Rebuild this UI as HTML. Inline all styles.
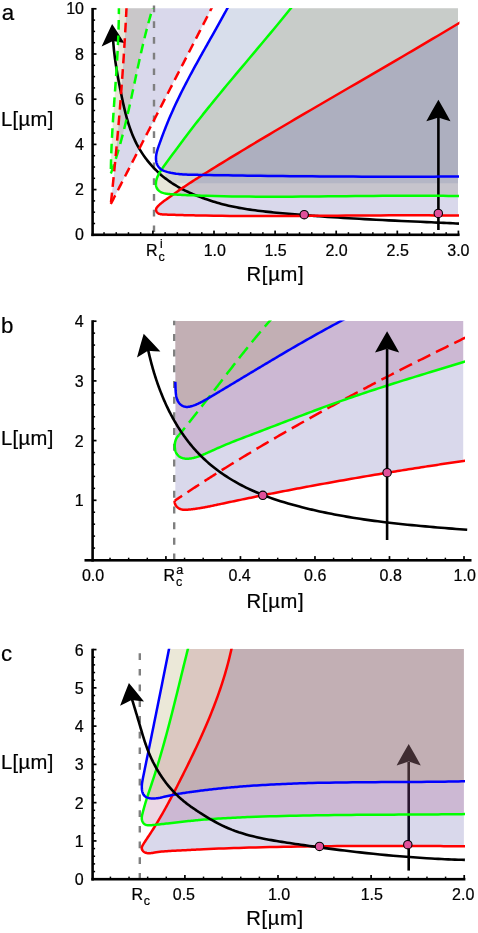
<!DOCTYPE html>
<html><head><meta charset="utf-8"><title>figure</title>
<style>
html,body{margin:0;padding:0;background:#fff;}
body{width:478px;height:933px;overflow:hidden;}
svg{display:block;will-change:transform;}
text{font-family:"Liberation Sans",sans-serif;fill:#000;stroke:#000;stroke-width:0.22px;}
</style></head><body>
<svg width="478" height="933" viewBox="0 0 478 933">
<rect width="478" height="933" fill="#fff"/>
<clipPath id="ca"><rect x="93.90" y="8.20" width="364.10" height="226.60"/></clipPath>
<g clip-path="url(#ca)">
<path d="M126.60,6.00 L126.59,6.07 L126.59,6.14 L126.59,6.21 L126.58,6.28 L126.58,6.35 L126.58,6.42 L126.57,6.49 L126.57,6.56 L126.57,6.63 L126.56,6.70 L126.56,6.77 L126.56,6.85 L126.55,6.92 L126.55,6.99 L126.55,7.06 L126.54,7.13 L126.54,7.20 L126.54,7.27 L126.53,7.34 L126.53,7.41 L126.53,7.48 L126.52,7.55 L126.52,7.62 L126.51,7.69 L126.51,7.76 L126.51,7.83 L126.50,7.90 L126.50,7.97 L126.50,8.04 L126.49,8.11 L126.49,8.18 L126.49,8.25 L126.48,8.32 L126.48,8.39 L126.48,8.47 L126.47,8.54 L126.47,8.61 L126.47,8.68 L126.46,8.75 L126.44,9.21 L126.34,11.26 L126.23,13.31 L126.13,15.36 L126.02,17.41 L125.91,19.45 L125.80,21.50 L125.69,23.55 L125.58,25.60 L125.46,27.65 L125.35,29.69 L125.23,31.74 L125.11,33.79 L124.99,35.84 L124.87,37.88 L124.75,39.93 L124.62,41.98 L124.50,44.03 L124.37,46.07 L124.24,48.12 L124.11,50.17 L123.98,52.21 L123.85,54.26 L123.72,56.31 L123.59,58.36 L123.45,60.40 L123.31,62.45 L123.17,64.50 L123.03,66.54 L122.89,68.59 L122.75,70.63 L122.61,72.68 L122.46,74.73 L122.32,76.77 L122.17,78.82 L122.02,80.86 L121.87,82.91 L121.72,84.96 L121.57,87.00 L121.41,89.05 L121.30,90.54 L121.25,91.22 L121.20,91.89 L121.15,92.56 L121.10,93.23 L121.04,93.91 L120.99,94.58 L120.94,95.25 L120.89,95.92 L120.84,96.60 L120.78,97.27 L120.73,97.94 L120.68,98.61 L120.63,99.29 L120.57,99.96 L120.52,100.63 L120.47,101.30 L120.41,101.98 L120.36,102.65 L120.31,103.32 L120.25,103.99 L120.20,104.67 L120.14,105.34 L120.09,106.01 L120.04,106.68 L119.98,107.36 L119.93,108.03 L119.87,108.70 L119.82,109.37 L119.76,110.04 L119.71,110.72 L119.65,111.39 L119.60,112.06 L119.54,112.73 L119.49,113.41 L119.43,114.08 L119.38,114.75 L119.32,115.42 L119.26,116.09 L119.21,116.77 L119.11,117.99 L118.97,119.57 L118.84,121.15 L118.70,122.73 L118.57,124.32 L118.43,125.90 L118.30,127.48 L118.16,129.06 L118.02,130.65 L117.88,132.23 L117.74,133.81 L117.60,135.39 L117.46,136.97 L117.32,138.56 L117.17,140.14 L117.03,141.72 L116.89,143.30 L116.74,144.88 L116.60,146.46 L116.45,148.05 L116.30,149.63 L116.16,151.21 L116.01,152.79 L115.86,154.37 L115.71,155.95 L115.56,157.53 L115.41,159.11 L115.25,160.70 L115.10,162.28 L114.95,163.86 L114.79,165.44 L114.64,167.02 L114.48,168.60 L114.33,170.18 L114.17,171.76 L114.01,173.34 L113.85,174.92 L113.69,176.50 L113.53,178.08 L113.37,179.66 L113.29,180.46 L113.23,181.06 L113.17,181.67 L113.11,182.27 L113.05,182.87 L112.98,183.48 L112.92,184.08 L112.86,184.69 L112.80,185.29 L112.73,185.89 L112.67,186.50 L112.61,187.10 L112.55,187.70 L112.48,188.31 L112.42,188.91 L112.36,189.52 L112.29,190.12 L112.23,190.72 L112.17,191.33 L112.10,191.93 L112.04,192.53 L111.97,193.14 L111.91,193.74 L111.85,194.34 L111.78,194.95 L111.72,195.55 L111.65,196.16 L111.59,196.76 L111.52,197.36 L111.46,197.97 L111.40,198.57 L111.33,199.17 L111.27,199.78 L111.20,200.38 L111.14,200.98 L111.07,201.59 L111.00,202.19 L110.94,202.79 L110.87,203.40 L110.81,204.00 L110.80,204.00 L111.33,202.96 L111.86,201.93 L112.40,200.89 L112.93,199.86 L113.46,198.82 L113.99,197.79 L114.53,196.75 L115.06,195.72 L115.59,194.68 L116.12,193.65 L116.66,192.61 L117.19,191.58 L117.72,190.54 L118.25,189.51 L118.79,188.47 L119.32,187.44 L119.85,186.40 L120.39,185.37 L120.92,184.33 L121.45,183.30 L121.98,182.26 L122.52,181.22 L123.05,180.19 L123.58,179.15 L124.11,178.12 L124.65,177.08 L125.18,176.05 L125.71,175.01 L126.25,173.98 L126.78,172.94 L127.31,171.91 L127.84,170.87 L128.38,169.84 L128.91,168.80 L129.44,167.77 L129.98,166.73 L130.51,165.70 L131.04,164.66 L131.57,163.63 L132.11,162.59 L132.66,161.51 L133.22,160.44 L133.77,159.37 L134.32,158.29 L134.87,157.22 L135.43,156.15 L135.98,155.08 L136.53,154.00 L137.09,152.93 L137.64,151.86 L138.19,150.78 L138.74,149.71 L139.30,148.64 L139.85,147.56 L140.40,146.49 L140.95,145.42 L141.51,144.35 L142.06,143.27 L142.61,142.20 L143.16,141.13 L143.72,140.05 L144.27,138.98 L144.82,137.91 L145.38,136.84 L145.93,135.76 L146.48,134.69 L147.03,133.62 L147.59,132.54 L148.14,131.47 L148.69,130.40 L149.24,129.33 L149.80,128.25 L150.35,127.18 L150.90,126.11 L151.46,125.03 L152.01,123.96 L152.56,122.89 L153.11,121.82 L153.67,120.74 L154.46,119.21 L155.60,116.98 L156.75,114.76 L157.90,112.53 L159.04,110.31 L160.19,108.08 L161.34,105.85 L162.48,103.63 L163.63,101.40 L164.78,99.18 L165.92,96.95 L167.07,94.73 L168.22,92.50 L169.36,90.27 L170.51,88.05 L171.66,85.82 L172.80,83.60 L173.95,81.37 L175.09,79.15 L176.24,76.92 L177.39,74.69 L178.53,72.47 L179.68,70.24 L180.82,68.02 L181.97,65.79 L183.12,63.56 L184.26,61.34 L185.41,59.11 L186.55,56.88 L187.70,54.66 L188.84,52.43 L189.99,50.21 L191.13,47.98 L192.28,45.75 L193.42,43.53 L194.57,41.30 L195.71,39.07 L196.86,36.85 L198.00,34.62 L199.15,32.39 L199.78,31.16 L200.07,30.59 L200.37,30.02 L200.66,29.45 L200.95,28.88 L201.25,28.31 L201.54,27.74 L201.83,27.17 L202.13,26.59 L202.42,26.02 L202.71,25.45 L203.01,24.88 L203.30,24.31 L203.59,23.74 L203.89,23.17 L204.18,22.60 L204.47,22.03 L204.77,21.46 L205.06,20.89 L205.35,20.32 L205.65,19.75 L205.94,19.17 L206.23,18.60 L206.52,18.03 L206.82,17.46 L207.11,16.89 L207.40,16.32 L207.70,15.75 L207.99,15.18 L208.28,14.61 L208.58,14.04 L208.87,13.47 L209.16,12.90 L209.46,12.33 L209.75,11.75 L210.04,11.18 L210.33,10.61 L210.63,10.04 L210.92,9.47 L211.21,8.90 L211.30,8.73 L211.34,8.66 L211.37,8.59 L211.41,8.52 L211.44,8.45 L211.48,8.38 L211.52,8.31 L211.55,8.24 L211.59,8.17 L211.62,8.10 L211.66,8.03 L211.70,7.96 L211.73,7.89 L211.77,7.82 L211.80,7.75 L211.84,7.68 L211.88,7.61 L211.91,7.54 L211.95,7.47 L211.98,7.40 L212.02,7.33 L212.06,7.26 L212.09,7.19 L212.13,7.12 L212.16,7.05 L212.20,6.98 L212.23,6.91 L212.27,6.84 L212.31,6.77 L212.34,6.70 L212.38,6.63 L212.41,6.56 L212.45,6.49 L212.49,6.42 L212.52,6.35 L212.56,6.28 L212.59,6.21 L212.63,6.14 L212.67,6.07 L212.70,6.00 Z" fill="rgb(63,61,153)" fill-opacity="0.2"/>
<path d="M118.89,6.00 L118.89,6.06 L118.89,6.11 L118.89,6.17 L118.90,6.23 L118.90,6.28 L118.90,6.34 L118.90,6.39 L118.90,6.45 L118.90,6.51 L118.90,6.56 L118.90,6.62 L118.90,6.68 L118.90,6.73 L118.90,6.79 L118.90,6.85 L118.90,6.90 L118.90,6.96 L118.90,7.02 L118.90,7.07 L118.90,7.13 L118.90,7.18 L118.90,7.24 L118.90,7.30 L118.90,7.35 L118.90,7.41 L118.90,7.47 L118.90,7.52 L118.90,7.58 L118.90,7.64 L118.90,7.69 L118.90,7.75 L118.90,7.80 L118.90,7.86 L118.90,7.92 L118.90,7.97 L118.90,8.03 L118.90,8.09 L118.90,8.14 L118.90,8.20 L118.90,8.26 L118.90,8.31 L118.90,8.37 L118.90,8.43 L118.90,8.48 L118.90,8.54 L118.90,8.59 L118.90,8.65 L118.90,8.71 L118.90,8.76 L118.89,9.22 L118.89,10.86 L118.88,12.50 L118.86,14.14 L118.84,15.78 L118.82,17.42 L118.79,19.07 L118.76,20.71 L118.73,22.35 L118.69,23.99 L118.65,25.63 L118.60,27.27 L118.56,28.91 L118.50,30.55 L118.45,32.19 L118.39,33.82 L118.33,35.46 L118.27,37.10 L118.20,38.74 L118.13,40.38 L118.06,42.02 L117.98,43.66 L117.90,45.29 L117.82,46.93 L117.74,48.57 L117.65,50.21 L117.57,51.84 L117.48,53.48 L117.39,55.12 L117.29,56.76 L117.20,58.39 L117.10,60.03 L117.00,61.67 L116.90,63.30 L116.80,64.94 L116.69,66.58 L116.59,68.21 L116.48,69.85 L116.37,71.48 L116.26,73.12 L116.16,74.76 L116.04,76.39 L115.93,78.03 L115.82,79.67 L115.71,81.30 L115.59,82.94 L115.48,84.57 L115.36,86.21 L115.25,87.84 L115.13,89.48 L115.06,90.57 L115.02,91.10 L114.98,91.64 L114.94,92.18 L114.90,92.71 L114.87,93.25 L114.83,93.79 L114.79,94.32 L114.75,94.86 L114.71,95.40 L114.68,95.93 L114.64,96.47 L114.60,97.01 L114.56,97.54 L114.52,98.08 L114.49,98.62 L114.45,99.15 L114.41,99.69 L114.37,100.23 L114.33,100.76 L114.30,101.30 L114.26,101.84 L114.22,102.37 L114.18,102.91 L114.15,103.45 L114.11,103.98 L114.07,104.52 L114.03,105.06 L114.00,105.59 L113.96,106.13 L113.92,106.67 L113.88,107.20 L113.85,107.74 L113.81,108.28 L113.77,108.82 L113.74,109.35 L113.70,109.89 L113.66,110.43 L113.63,110.96 L113.59,111.50 L113.55,112.04 L113.52,112.57 L113.48,113.11 L113.44,113.65 L113.41,114.18 L113.37,114.72 L113.34,115.26 L113.30,115.79 L113.27,116.33 L113.23,116.87 L113.17,117.85 L113.09,118.99 L113.02,120.12 L112.95,121.25 L112.87,122.39 L112.80,123.52 L112.73,124.66 L112.66,125.79 L112.59,126.93 L112.53,128.06 L112.46,129.20 L112.39,130.33 L112.33,131.47 L112.26,132.60 L112.20,133.73 L112.14,134.87 L112.08,136.00 L112.02,137.14 L111.96,138.27 L111.90,139.41 L111.84,140.55 L111.78,141.68 L111.73,142.82 L111.68,143.95 L111.62,145.09 L111.57,146.22 L111.52,147.36 L111.47,148.49 L111.43,149.63 L111.38,150.76 L111.34,151.90 L111.29,153.04 L111.25,154.17 L111.21,155.31 L111.17,156.45 L111.14,157.58 L111.10,158.72 L111.07,159.85 L111.04,160.99 L111.01,162.13 L110.98,163.26 L110.95,164.40 L110.93,165.54 L110.90,166.68 L110.88,167.81 L110.86,168.95 L110.84,170.09 L110.83,171.22 L110.81,172.36 L110.80,173.50 L110.80,173.50 L110.90,173.23 L111.00,172.96 L111.10,172.69 L111.19,172.42 L111.29,172.15 L111.39,171.88 L111.49,171.61 L111.58,171.34 L111.68,171.07 L111.77,170.80 L111.87,170.52 L111.97,170.25 L112.06,169.98 L112.16,169.71 L112.25,169.44 L112.35,169.17 L112.44,168.90 L112.54,168.63 L112.63,168.35 L112.72,168.08 L112.82,167.81 L112.91,167.54 L113.00,167.27 L113.10,167.00 L113.19,166.72 L113.28,166.45 L113.38,166.18 L113.47,165.91 L113.56,165.63 L113.65,165.36 L113.74,165.09 L113.83,164.82 L113.92,164.55 L114.02,164.27 L114.11,164.00 L114.20,163.73 L114.29,163.45 L114.38,163.18 L114.47,162.91 L114.56,162.64 L114.65,162.36 L114.74,162.09 L114.82,161.82 L114.91,161.54 L115.00,161.27 L115.09,161.00 L115.18,160.72 L115.27,160.45 L115.35,160.18 L115.49,159.76 L115.76,158.91 L116.03,158.05 L116.30,157.20 L116.56,156.35 L116.83,155.49 L117.09,154.64 L117.35,153.78 L117.61,152.93 L117.86,152.07 L118.12,151.21 L118.37,150.36 L118.62,149.50 L118.87,148.64 L119.12,147.78 L119.37,146.92 L119.61,146.06 L119.85,145.20 L120.10,144.34 L120.34,143.48 L120.58,142.61 L120.81,141.75 L121.05,140.89 L121.28,140.03 L121.52,139.16 L121.75,138.30 L121.98,137.43 L122.21,136.57 L122.43,135.70 L122.66,134.84 L122.88,133.97 L123.11,133.10 L123.33,132.24 L123.55,131.37 L123.77,130.50 L123.99,129.63 L124.21,128.77 L124.42,127.90 L124.64,127.03 L124.85,126.16 L125.06,125.29 L125.28,124.42 L125.49,123.55 L125.70,122.68 L125.91,121.81 L126.11,120.94 L126.32,120.07 L126.53,119.19 L126.73,118.32 L126.94,117.45 L127.29,115.92 L127.79,113.74 L128.29,111.56 L128.79,109.37 L129.27,107.19 L129.76,105.00 L130.24,102.81 L130.72,100.63 L131.20,98.44 L131.67,96.25 L132.14,94.06 L132.61,91.86 L133.08,89.67 L133.54,87.48 L134.01,85.29 L134.47,83.10 L134.94,80.91 L135.40,78.71 L135.87,76.52 L136.34,74.33 L136.80,72.14 L137.27,69.95 L137.74,67.76 L138.22,65.57 L138.69,63.39 L139.17,61.20 L139.65,59.01 L140.14,56.83 L140.63,54.65 L141.12,52.46 L141.62,50.28 L142.12,48.10 L142.63,45.93 L143.14,43.75 L143.66,41.58 L144.19,39.41 L144.72,37.24 L145.26,35.07 L145.81,32.91 L146.36,30.75 L146.92,28.59 L147.49,26.43 L148.07,24.27 L148.66,22.12 L149.26,19.97 L149.86,17.83 L150.48,15.69 L151.10,13.55 L151.74,11.41 L152.39,9.28 L152.56,8.71 L152.58,8.65 L152.60,8.60 L152.62,8.54 L152.63,8.49 L152.65,8.43 L152.67,8.38 L152.68,8.32 L152.70,8.27 L152.72,8.21 L152.74,8.16 L152.75,8.10 L152.77,8.04 L152.79,7.99 L152.80,7.93 L152.82,7.88 L152.84,7.82 L152.86,7.77 L152.87,7.71 L152.89,7.66 L152.91,7.60 L152.92,7.55 L152.94,7.49 L152.96,7.44 L152.98,7.38 L152.99,7.33 L153.01,7.27 L153.03,7.22 L153.04,7.16 L153.06,7.11 L153.08,7.05 L153.10,7.00 L153.11,6.94 L153.13,6.89 L153.15,6.83 L153.17,6.78 L153.18,6.72 L153.20,6.66 L153.22,6.61 L153.23,6.55 L153.25,6.50 L153.27,6.44 L153.29,6.39 L153.30,6.33 L153.32,6.28 L153.34,6.22 L153.36,6.17 L153.37,6.11 L153.39,6.06 L153.41,6.00 Z" fill="rgb(140,133,64)" fill-opacity="0.2"/>
<path d="M228.20,6.80 L228.08,7.01 L227.97,7.22 L227.86,7.43 L227.74,7.64 L227.63,7.85 L227.52,8.06 L227.40,8.27 L227.29,8.49 L227.17,8.70 L226.20,10.49 L224.44,13.72 L222.66,16.95 L220.87,20.18 L219.08,23.40 L217.27,26.63 L215.46,29.85 L213.64,33.08 L211.82,36.31 L210.04,39.47 L208.99,41.32 L207.94,43.18 L206.90,45.04 L205.85,46.90 L204.81,48.75 L203.76,50.61 L202.72,52.47 L201.68,54.33 L200.64,56.20 L199.42,58.39 L198.06,60.83 L196.71,63.27 L195.37,65.72 L194.03,68.17 L192.70,70.62 L191.38,73.07 L190.06,75.53 L188.76,77.99 L187.45,80.47 L186.08,83.10 L184.72,85.74 L183.37,88.38 L182.03,91.03 L180.71,93.68 L179.40,96.33 L178.11,99.00 L176.83,101.66 L175.57,104.34 L174.66,106.30 L173.96,107.83 L173.26,109.36 L172.57,110.90 L171.89,112.43 L171.21,113.97 L170.54,115.51 L169.88,117.05 L169.22,118.59 L168.61,120.04 L168.26,120.89 L167.91,121.73 L167.56,122.58 L167.22,123.42 L166.87,124.27 L166.53,125.12 L166.19,125.97 L165.85,126.82 L165.51,127.67 L165.21,128.45 L164.92,129.18 L164.63,129.92 L164.35,130.66 L164.06,131.40 L163.78,132.13 L163.50,132.87 L163.22,133.62 L162.94,134.36 L162.63,135.17 L162.22,136.27 L161.81,137.37 L161.40,138.48 L161.00,139.59 L160.59,140.70 L160.19,141.81 L159.79,142.93 L159.40,144.04 L159.00,145.16 L158.73,145.93 L158.51,146.56 L158.29,147.19 L158.07,147.82 L157.86,148.46 L157.66,149.09 L157.46,149.73 L157.27,150.36 L157.09,151.00 L156.92,151.64 L156.75,152.29 L156.61,152.94 L156.47,153.58 L156.35,154.24 L156.24,154.89 L156.15,155.55 L156.08,156.21 L156.02,156.87 L155.99,157.54 L155.98,158.21 L155.98,158.88 L156.02,159.55 L156.07,160.22 L156.15,160.89 L156.27,161.55 L156.40,162.20 L156.57,162.85 L156.78,163.49 L157.01,164.11 L157.29,164.73 L157.59,165.33 L157.93,165.92 L158.30,166.48 L158.70,167.02 L159.13,167.53 L159.59,168.02 L160.07,168.48 L160.58,168.92 L161.20,169.37 L161.86,169.80 L162.55,170.19 L163.27,170.54 L164.00,170.86 L164.75,171.15 L165.52,171.42 L166.29,171.66 L167.07,171.89 L168.03,172.15 L169.35,172.47 L170.66,172.77 L171.98,173.04 L173.30,173.28 L174.62,173.50 L175.94,173.70 L177.26,173.87 L178.59,174.02 L179.91,174.16 L181.47,174.29 L183.06,174.41 L184.65,174.50 L186.24,174.58 L187.83,174.64 L189.43,174.69 L191.02,174.73 L192.62,174.77 L194.21,174.80 L195.60,174.82 L196.63,174.84 L197.66,174.86 L198.70,174.88 L199.73,174.89 L200.77,174.91 L201.80,174.93 L202.84,174.95 L203.87,174.96 L204.90,174.98 L209.30,175.06 L214.05,175.13 L218.80,175.21 L223.55,175.28 L228.30,175.36 L233.04,175.43 L237.79,175.50 L242.54,175.56 L247.29,175.63 L253.17,175.71 L260.56,175.80 L267.94,175.89 L275.33,175.98 L282.71,176.06 L290.10,176.14 L297.49,176.21 L304.87,176.28 L312.26,176.34 L319.65,176.40 L328.04,176.46 L336.48,176.51 L344.92,176.56 L353.36,176.60 L361.81,176.64 L370.25,176.66 L378.69,176.68 L387.13,176.69 L395.58,176.70 L402.96,176.70 L409.19,176.69 L415.42,176.68 L421.64,176.67 L427.87,176.65 L434.09,176.63 L440.32,176.60 L446.55,176.57 L452.77,176.53 L459.00,176.49 L459,6 Z" fill="rgb(61,90,153)" fill-opacity="0.2"/>
<path d="M292.00,6.80 L291.86,6.98 L291.71,7.16 L291.57,7.34 L291.42,7.52 L291.28,7.70 L291.13,7.88 L290.99,8.06 L290.84,8.24 L290.70,8.43 L290.55,8.61 L290.41,8.79 L286.58,13.52 L282.52,18.50 L278.45,23.47 L274.35,28.43 L270.25,33.38 L266.13,38.31 L262.00,43.25 L257.86,48.17 L253.72,53.09 L249.58,58.01 L245.44,62.93 L242.15,66.85 L238.97,70.63 L235.79,74.42 L232.61,78.21 L229.44,82.01 L226.28,85.81 L223.12,89.62 L219.97,93.44 L216.84,97.26 L213.71,101.09 L210.59,104.93 L209.23,106.61 L208.22,107.86 L207.21,109.12 L206.20,110.37 L205.20,111.63 L204.19,112.89 L203.19,114.15 L202.19,115.41 L201.19,116.67 L200.19,117.93 L199.19,119.20 L198.07,120.63 L196.91,122.11 L195.76,123.59 L194.61,125.07 L193.46,126.55 L192.31,128.04 L191.17,129.52 L190.02,131.01 L188.88,132.51 L187.75,134.00 L186.62,135.50 L185.70,136.72 L184.86,137.83 L184.02,138.94 L183.19,140.06 L182.36,141.18 L181.52,142.29 L180.69,143.41 L179.86,144.53 L179.03,145.65 L178.20,146.77 L177.37,147.89 L176.91,148.53 L176.62,148.92 L176.33,149.31 L176.04,149.70 L175.75,150.09 L175.46,150.49 L175.17,150.88 L174.88,151.27 L174.59,151.66 L174.30,152.05 L174.01,152.45 L173.34,153.36 L172.42,154.61 L171.50,155.85 L170.58,157.10 L169.66,158.35 L168.75,159.60 L167.83,160.85 L166.92,162.10 L166.01,163.35 L165.10,164.60 L164.20,165.85 L163.49,166.83 L162.94,167.60 L162.40,168.36 L161.86,169.13 L161.33,169.91 L160.81,170.69 L160.30,171.49 L159.81,172.29 L159.33,173.10 L158.87,173.92 L158.43,174.76 L158.06,175.51 L157.75,176.17 L157.46,176.83 L157.19,177.51 L156.94,178.19 L156.71,178.88 L156.51,179.58 L156.33,180.28 L156.18,180.99 L156.07,181.71 L155.98,182.43 L155.94,183.07 L155.92,183.59 L155.93,184.11 L155.95,184.64 L156.00,185.16 L156.07,185.67 L156.17,186.18 L156.30,186.68 L156.45,187.16 L156.63,187.64 L156.84,188.10 L157.08,188.54 L157.36,188.98 L157.67,189.40 L158.00,189.80 L158.36,190.17 L158.75,190.53 L159.15,190.88 L159.58,191.20 L160.01,191.50 L160.47,191.78 L160.93,192.04 L161.50,192.32 L162.25,192.65 L163.02,192.93 L163.80,193.17 L164.60,193.38 L165.40,193.56 L166.22,193.71 L167.04,193.83 L167.86,193.94 L168.69,194.03 L169.52,194.11 L170.44,194.19 L171.60,194.28 L172.75,194.37 L173.90,194.45 L175.05,194.52 L176.19,194.59 L177.33,194.66 L178.47,194.72 L179.60,194.78 L180.74,194.84 L181.87,194.89 L183.20,194.95 L185.20,195.04 L187.20,195.13 L189.21,195.21 L191.21,195.29 L193.22,195.37 L195.22,195.45 L197.23,195.52 L199.24,195.59 L201.24,195.66 L203.25,195.73 L206.35,195.82 L214.91,196.06 L223.47,196.25 L232.04,196.41 L240.62,196.53 L249.21,196.61 L257.80,196.67 L266.40,196.70 L275.00,196.70 L283.61,196.68 L292.22,196.64 L300.88,196.59 L309.95,196.52 L319.02,196.43 L328.09,196.34 L337.16,196.25 L346.23,196.15 L355.30,196.05 L364.37,195.96 L373.44,195.88 L382.50,195.80 L391.56,195.75 L400.40,195.71 L405.74,195.69 L411.08,195.69 L416.42,195.69 L421.75,195.70 L427.08,195.73 L432.41,195.76 L437.73,195.80 L443.05,195.86 L448.37,195.93 L453.69,196.01 L459.00,196.11 L459,6 Z" fill="rgb(140,133,64)" fill-opacity="0.2"/>
<path d="M462.00,21.30 L461.74,21.45 L461.49,21.60 L461.23,21.76 L460.97,21.91 L460.72,22.07 L460.46,22.22 L460.21,22.37 L459.95,22.53 L459.69,22.68 L459.44,22.84 L459.18,22.99 L457.53,23.98 L452.52,26.99 L447.50,29.99 L442.48,32.98 L437.46,35.97 L432.43,38.95 L427.40,41.92 L422.37,44.90 L417.33,47.86 L412.29,50.83 L407.24,53.79 L402.20,56.74 L395.59,60.61 L387.89,65.10 L380.18,69.60 L372.47,74.09 L364.75,78.57 L357.04,83.06 L349.32,87.54 L341.61,92.02 L333.90,96.51 L326.18,101.00 L318.48,105.49 L310.77,109.99 L305.33,113.17 L300.20,116.18 L295.06,119.20 L289.93,122.21 L284.80,125.23 L279.68,128.26 L274.56,131.29 L269.44,134.33 L264.33,137.37 L259.22,140.42 L254.12,143.47 L249.24,146.40 L245.42,148.70 L241.60,151.00 L237.78,153.31 L233.97,155.62 L230.16,157.94 L226.35,160.26 L222.55,162.59 L218.75,164.92 L214.95,167.26 L211.16,169.61 L207.37,171.95 L204.86,173.51 L203.79,174.18 L202.72,174.85 L201.65,175.51 L200.58,176.18 L199.51,176.85 L198.45,177.52 L197.38,178.20 L196.31,178.87 L195.25,179.55 L194.18,180.23 L193.12,180.91 L192.03,181.61 L190.92,182.33 L189.82,183.04 L188.72,183.76 L187.62,184.48 L186.52,185.21 L185.42,185.94 L184.33,186.67 L183.23,187.41 L182.14,188.16 L181.05,188.90 L179.96,189.65 L178.88,190.40 L177.81,191.16 L176.73,191.91 L175.66,192.67 L174.60,193.43 L173.53,194.19 L172.47,194.95 L171.42,195.70 L170.37,196.45 L169.33,197.20 L168.29,197.94 L167.35,198.61 L166.59,199.15 L165.84,199.69 L165.08,200.23 L164.33,200.79 L163.58,201.35 L162.82,201.92 L162.07,202.52 L161.32,203.13 L160.56,203.77 L159.81,204.44 L159.05,205.13 L158.55,205.60 L158.21,205.94 L157.87,206.29 L157.55,206.64 L157.24,207.00 L156.96,207.37 L156.70,207.74 L156.48,208.12 L156.30,208.51 L156.16,208.91 L156.07,209.31 L156.04,209.72 L156.05,210.01 L156.09,210.30 L156.15,210.60 L156.24,210.88 L156.35,211.17 L156.49,211.45 L156.64,211.72 L156.81,211.98 L156.99,212.23 L157.20,212.47 L157.41,212.69 L157.68,212.94 L158.11,213.26 L158.57,213.53 L159.05,213.75 L159.56,213.93 L160.09,214.08 L160.63,214.19 L161.19,214.28 L161.75,214.34 L162.33,214.39 L162.91,214.43 L163.49,214.45 L164.67,214.50 L166.37,214.57 L168.05,214.64 L169.71,214.70 L171.35,214.76 L172.98,214.81 L174.59,214.86 L176.20,214.91 L177.79,214.96 L179.38,215.01 L180.97,215.05 L182.56,215.09 L184.38,215.14 L186.25,215.19 L188.12,215.24 L189.99,215.28 L191.87,215.32 L193.74,215.36 L195.62,215.40 L197.50,215.44 L199.38,215.48 L201.26,215.52 L203.14,215.55 L205.74,215.60 L213.77,215.72 L221.82,215.82 L229.89,215.90 L237.97,215.96 L246.07,216.00 L254.18,216.03 L262.30,216.04 L270.44,216.04 L278.58,216.02 L286.73,216.00 L294.89,215.96 L303.23,215.91 L311.83,215.86 L320.43,215.80 L329.03,215.74 L337.64,215.68 L346.24,215.62 L354.84,215.56 L363.43,215.50 L372.02,215.44 L380.61,215.40 L389.18,215.36 L397.75,215.34 L403.83,215.32 L408.87,215.32 L413.91,215.32 L418.94,215.32 L423.97,215.34 L428.99,215.35 L434.01,215.38 L439.02,215.41 L444.02,215.45 L449.02,215.49 L454.01,215.55 L458.99,215.61 Z" fill="rgb(63,61,153)" fill-opacity="0.2"/>
<path d="M166,172 L459,176.5 L459,183.2 L172,183.2 Q163,180 166,172 Z" fill="rgb(61,90,153)" fill-opacity="0.13"/>
</g>
<path d="M154,5.6 L154,234" stroke="#7f7f7f" stroke-width="2.4" stroke-dasharray="6.7 9.0" fill="none"/>
<path d="M113.00,38.00 L113.11,39.80 L113.23,41.60 L113.36,43.40 L113.51,45.20 L113.67,46.99 L113.84,48.79 L114.02,50.58 L114.22,52.36 L114.43,54.15 L114.67,56.12 L114.94,58.26 L115.23,60.40 L115.54,62.54 L115.86,64.68 L116.19,66.81 L116.53,68.95 L116.88,71.08 L117.24,73.21 L117.61,75.33 L117.95,77.20 L118.29,79.08 L118.64,80.96 L119.00,82.84 L119.36,84.72 L119.72,86.59 L120.09,88.47 L120.47,90.35 L120.85,92.23 L121.19,93.94 L121.52,95.54 L121.85,97.14 L122.18,98.73 L122.52,100.32 L122.86,101.92 L123.21,103.51 L123.57,105.10 L123.93,106.69 L124.32,108.35 L124.89,110.73 L125.48,113.11 L126.10,115.48 L126.74,117.84 L127.42,120.19 L128.12,122.53 L128.85,124.85 L129.62,127.16 L130.42,129.46 L131.10,131.30 L131.70,132.87 L132.32,134.43 L132.96,135.98 L133.62,137.53 L134.31,139.06 L135.02,140.58 L135.75,142.09 L136.50,143.60 L137.27,145.06 L137.97,146.35 L138.69,147.63 L139.42,148.90 L140.18,150.16 L140.96,151.41 L141.75,152.65 L142.56,153.89 L143.39,155.11 L144.23,156.32 L145.04,157.43 L145.83,158.50 L146.63,159.55 L147.44,160.60 L148.27,161.64 L149.11,162.66 L149.96,163.68 L150.83,164.68 L151.71,165.67 L152.60,166.65 L153.50,167.62 L154.41,168.57 L155.33,169.51 L156.27,170.44 L157.21,171.36 L158.17,172.26 L159.13,173.15 L160.11,174.03 L161.10,174.90 L162.03,175.68 L162.93,176.44 L163.85,177.18 L164.77,177.91 L165.70,178.63 L166.63,179.34 L167.58,180.04 L168.53,180.73 L169.49,181.41 L170.53,182.12 L171.81,182.99 L173.11,183.83 L174.41,184.65 L175.73,185.46 L177.06,186.25 L178.40,187.03 L179.75,187.78 L181.11,188.52 L182.48,189.25 L183.77,189.91 L185.05,190.55 L186.33,191.17 L187.62,191.78 L188.92,192.38 L190.22,192.96 L191.53,193.54 L192.85,194.10 L194.17,194.65 L195.41,195.16 L196.43,195.57 L197.45,195.97 L198.48,196.37 L199.51,196.77 L200.54,197.15 L201.58,197.54 L202.62,197.92 L203.65,198.29 L204.70,198.66 L206.59,199.32 L208.70,200.03 L210.81,200.72 L212.92,201.40 L215.04,202.05 L217.17,202.68 L219.30,203.29 L221.44,203.88 L223.58,204.45 L225.89,205.03 L228.53,205.66 L231.18,206.26 L233.84,206.82 L236.50,207.35 L239.17,207.86 L241.84,208.33 L244.52,208.78 L247.20,209.20 L249.88,209.60 L252.52,209.98 L255.16,210.33 L257.81,210.67 L260.45,210.99 L263.09,211.30 L265.74,211.59 L268.39,211.88 L271.04,212.15 L273.69,212.42 L276.49,212.69 L279.53,212.99 L282.58,213.28 L285.62,213.56 L288.66,213.83 L291.70,214.10 L294.75,214.36 L297.79,214.62 L300.83,214.87 L303.88,215.12 L305.68,215.26 L307.34,215.39 L309.01,215.52 L310.68,215.65 L312.34,215.78 L314.01,215.90 L315.68,216.02 L317.34,216.15 L319.01,216.27 L322.22,216.50 L327.50,216.86 L332.78,217.21 L338.06,217.55 L343.34,217.88 L348.62,218.20 L353.90,218.51 L359.19,218.81 L364.47,219.10 L369.76,219.38 L376.04,219.70 L382.37,220.02 L388.71,220.34 L395.04,220.64 L401.38,220.94 L407.71,221.23 L414.04,221.53 L420.38,221.82 L426.71,222.10 L431.48,222.32 L434.54,222.46 L437.60,222.60 L440.66,222.74 L443.72,222.88 L446.77,223.03 L449.83,223.17 L452.89,223.31 L455.94,223.46 L459.00,223.61" fill="none" stroke="#000" stroke-width="2.6"/>
<path d="M112.10,23.90 Q106.57,35.39 101.60,46.60 Q107.25,43.75 112.90,40.90 Q118.65,41.95 124.40,43.00 Q118.54,33.50 112.10,23.90 Z" fill="#000"/>
<path d="M438.4,230 L438.4,117" stroke="#000" stroke-width="2.6"/>
<path d="M438.40,99.80 Q432.05,110.65 426.30,121.30 Q432.35,119.35 438.40,117.40 Q444.45,119.35 450.50,121.30 Q444.75,110.65 438.40,99.80 Z" fill="#000"/>
<g clip-path="url(#ca)" fill="none" stroke-width="2.5">
<path d="M110.80,173.50 L110.81,172.36 L110.83,171.22 L110.84,170.09 L110.86,168.95 L110.88,167.81 L110.90,166.68 L110.93,165.54 L110.95,164.40 L110.98,163.26 L111.01,162.13 L111.04,160.99 L111.07,159.85 L111.10,158.72 L111.14,157.58 L111.17,156.45 L111.21,155.31 L111.25,154.17 L111.29,153.04 L111.34,151.90 L111.38,150.76 L111.43,149.63 L111.47,148.49 L111.52,147.36 L111.57,146.22 L111.62,145.09 L111.68,143.95 L111.73,142.82 L111.78,141.68 L111.84,140.55 L111.90,139.41 L111.96,138.27 L112.02,137.14 L112.08,136.00 L112.14,134.87 L112.20,133.73 L112.26,132.60 L112.33,131.47 L112.39,130.33 L112.46,129.20 L112.53,128.06 L112.59,126.93 L112.66,125.79 L112.73,124.66 L112.80,123.52 L112.87,122.39 L112.95,121.25 L113.02,120.12 L113.09,118.99 L113.17,117.85 L113.23,116.87 L113.27,116.33 L113.30,115.79 L113.34,115.26 L113.37,114.72 L113.41,114.18 L113.44,113.65 L113.48,113.11 L113.52,112.57 L113.55,112.04 L113.59,111.50 L113.63,110.96 L113.66,110.43 L113.70,109.89 L113.74,109.35 L113.77,108.82 L113.81,108.28 L113.85,107.74 L113.88,107.20 L113.92,106.67 L113.96,106.13 L114.00,105.59 L114.03,105.06 L114.07,104.52 L114.11,103.98 L114.15,103.45 L114.18,102.91 L114.22,102.37 L114.26,101.84 L114.30,101.30 L114.33,100.76 L114.37,100.23 L114.41,99.69 L114.45,99.15 L114.49,98.62 L114.52,98.08 L114.56,97.54 L114.60,97.01 L114.64,96.47 L114.68,95.93 L114.71,95.40 L114.75,94.86 L114.79,94.32 L114.83,93.79 L114.87,93.25 L114.90,92.71 L114.94,92.18 L114.98,91.64 L115.02,91.10 L115.06,90.57 L115.13,89.48 L115.25,87.84 L115.36,86.21 L115.48,84.57 L115.59,82.94 L115.71,81.30 L115.82,79.67 L115.93,78.03 L116.04,76.39 L116.16,74.76 L116.26,73.12 L116.37,71.48 L116.48,69.85 L116.59,68.21 L116.69,66.58 L116.80,64.94 L116.90,63.30 L117.00,61.67 L117.10,60.03 L117.20,58.39 L117.29,56.76 L117.39,55.12 L117.48,53.48 L117.57,51.84 L117.65,50.21 L117.74,48.57 L117.82,46.93 L117.90,45.29 L117.98,43.66 L118.06,42.02 L118.13,40.38 L118.20,38.74 L118.27,37.10 L118.33,35.46 L118.39,33.82 L118.45,32.19 L118.50,30.55 L118.56,28.91 L118.60,27.27 L118.65,25.63 L118.69,23.99 L118.73,22.35 L118.76,20.71 L118.79,19.07 L118.82,17.42 L118.84,15.78 L118.86,14.14 L118.88,12.50 L118.89,10.86 L118.89,9.22 L118.90,8.76 L118.90,8.71 L118.90,8.65 L118.90,8.59 L118.90,8.54 L118.90,8.48 L118.90,8.43 L118.90,8.37 L118.90,8.31 L118.90,8.26 L118.90,8.20 L118.90,8.14 L118.90,8.09 L118.90,8.03 L118.90,7.97 L118.90,7.92 L118.90,7.86 L118.90,7.80 L118.90,7.75 L118.90,7.69 L118.90,7.64 L118.90,7.58 L118.90,7.52 L118.90,7.47 L118.90,7.41 L118.90,7.35 L118.90,7.30 L118.90,7.24 L118.90,7.18 L118.90,7.13 L118.90,7.07 L118.90,7.02 L118.90,6.96 L118.90,6.90 L118.90,6.85 L118.90,6.79 L118.90,6.73 L118.90,6.68 L118.90,6.62 L118.90,6.56 L118.90,6.51 L118.90,6.45 L118.90,6.39 L118.90,6.34 L118.90,6.28 L118.90,6.23 L118.89,6.17 L118.89,6.11 L118.89,6.06 L118.89,6.00" stroke="#0f0" stroke-dasharray="9.7 5.8" stroke-dashoffset="-4.6"/>
<path d="M110.80,173.50 L110.90,173.23 L111.00,172.96 L111.10,172.69 L111.19,172.42 L111.29,172.15 L111.39,171.88 L111.49,171.61 L111.58,171.34 L111.68,171.07 L111.77,170.80 L111.87,170.52 L111.97,170.25 L112.06,169.98 L112.16,169.71 L112.25,169.44 L112.35,169.17 L112.44,168.90 L112.54,168.63 L112.63,168.35 L112.72,168.08 L112.82,167.81 L112.91,167.54 L113.00,167.27 L113.10,167.00 L113.19,166.72 L113.28,166.45 L113.38,166.18 L113.47,165.91 L113.56,165.63 L113.65,165.36 L113.74,165.09 L113.83,164.82 L113.92,164.55 L114.02,164.27 L114.11,164.00 L114.20,163.73 L114.29,163.45 L114.38,163.18 L114.47,162.91 L114.56,162.64 L114.65,162.36 L114.74,162.09 L114.82,161.82 L114.91,161.54 L115.00,161.27 L115.09,161.00 L115.18,160.72 L115.27,160.45 L115.35,160.18 L115.49,159.76 L115.76,158.91 L116.03,158.05 L116.30,157.20 L116.56,156.35 L116.83,155.49 L117.09,154.64 L117.35,153.78 L117.61,152.93 L117.86,152.07 L118.12,151.21 L118.37,150.36 L118.62,149.50 L118.87,148.64 L119.12,147.78 L119.37,146.92 L119.61,146.06 L119.85,145.20 L120.10,144.34 L120.34,143.48 L120.58,142.61 L120.81,141.75 L121.05,140.89 L121.28,140.03 L121.52,139.16 L121.75,138.30 L121.98,137.43 L122.21,136.57 L122.43,135.70 L122.66,134.84 L122.88,133.97 L123.11,133.10 L123.33,132.24 L123.55,131.37 L123.77,130.50 L123.99,129.63 L124.21,128.77 L124.42,127.90 L124.64,127.03 L124.85,126.16 L125.06,125.29 L125.28,124.42 L125.49,123.55 L125.70,122.68 L125.91,121.81 L126.11,120.94 L126.32,120.07 L126.53,119.19 L126.73,118.32 L126.94,117.45 L127.29,115.92 L127.79,113.74 L128.29,111.56 L128.79,109.37 L129.27,107.19 L129.76,105.00 L130.24,102.81 L130.72,100.63 L131.20,98.44 L131.67,96.25 L132.14,94.06 L132.61,91.86 L133.08,89.67 L133.54,87.48 L134.01,85.29 L134.47,83.10 L134.94,80.91 L135.40,78.71 L135.87,76.52 L136.34,74.33 L136.80,72.14 L137.27,69.95 L137.74,67.76 L138.22,65.57 L138.69,63.39 L139.17,61.20 L139.65,59.01 L140.14,56.83 L140.63,54.65 L141.12,52.46 L141.62,50.28 L142.12,48.10 L142.63,45.93 L143.14,43.75 L143.66,41.58 L144.19,39.41 L144.72,37.24 L145.26,35.07 L145.81,32.91 L146.36,30.75 L146.92,28.59 L147.49,26.43 L148.07,24.27 L148.66,22.12 L149.26,19.97 L149.86,17.83 L150.48,15.69 L151.10,13.55 L151.74,11.41 L152.39,9.28 L152.56,8.71 L152.58,8.65 L152.60,8.60 L152.62,8.54 L152.63,8.49 L152.65,8.43 L152.67,8.38 L152.68,8.32 L152.70,8.27 L152.72,8.21 L152.74,8.16 L152.75,8.10 L152.77,8.04 L152.79,7.99 L152.80,7.93 L152.82,7.88 L152.84,7.82 L152.86,7.77 L152.87,7.71 L152.89,7.66 L152.91,7.60 L152.92,7.55 L152.94,7.49 L152.96,7.44 L152.98,7.38 L152.99,7.33 L153.01,7.27 L153.03,7.22 L153.04,7.16 L153.06,7.11 L153.08,7.05 L153.10,7.00 L153.11,6.94 L153.13,6.89 L153.15,6.83 L153.17,6.78 L153.18,6.72 L153.20,6.66 L153.22,6.61 L153.23,6.55 L153.25,6.50 L153.27,6.44 L153.29,6.39 L153.30,6.33 L153.32,6.28 L153.34,6.22 L153.36,6.17 L153.37,6.11 L153.39,6.06 L153.41,6.00" stroke="#0f0" stroke-dasharray="9.7 5.8"/>
<path d="M110.81,204.00 L110.87,203.40 L110.94,202.79 L111.00,202.19 L111.07,201.59 L111.14,200.98 L111.20,200.38 L111.27,199.78 L111.33,199.17 L111.40,198.57 L111.46,197.97 L111.53,197.36 L111.59,196.76 L111.65,196.16 L111.72,195.55 L111.78,194.95 L111.85,194.34 L111.91,193.74 L111.97,193.14 L112.04,192.53 L112.10,191.93 L112.17,191.33 L112.23,190.72 L112.29,190.12 L112.36,189.52 L112.42,188.91 L112.48,188.31 L112.55,187.70 L112.61,187.10 L112.67,186.50 L112.73,185.89 L112.80,185.29 L112.86,184.69 L112.92,184.08 L112.98,183.48 L113.05,182.87 L113.11,182.27 L113.17,181.67 L113.23,181.06 L113.29,180.46 L113.37,179.66 L113.54,178.08 L113.70,176.50 L113.85,174.92 L114.01,173.34 L114.17,171.76 L114.33,170.18 L114.48,168.60 L114.64,167.02 L114.79,165.44 L114.95,163.86 L115.10,162.28 L115.25,160.70 L115.41,159.11 L115.56,157.53 L115.71,155.95 L115.86,154.37 L116.01,152.79 L116.16,151.21 L116.30,149.63 L116.45,148.05 L116.60,146.46 L116.74,144.88 L116.89,143.30 L117.03,141.72 L117.17,140.14 L117.32,138.56 L117.46,136.97 L117.60,135.39 L117.74,133.81 L117.88,132.23 L118.02,130.65 L118.16,129.06 L118.30,127.48 L118.43,125.90 L118.57,124.32 L118.70,122.73 L118.84,121.15 L118.97,119.57 L119.11,117.99 L119.21,116.77 L119.26,116.09 L119.32,115.42 L119.38,114.75 L119.43,114.08 L119.49,113.41 L119.54,112.73 L119.60,112.06 L119.65,111.39 L119.71,110.72 L119.76,110.04 L119.82,109.37 L119.87,108.70 L119.93,108.03 L119.98,107.36 L120.04,106.68 L120.09,106.01 L120.14,105.34 L120.20,104.67 L120.25,103.99 L120.31,103.32 L120.36,102.65 L120.41,101.98 L120.47,101.30 L120.52,100.63 L120.57,99.96 L120.62,99.29 L120.68,98.61 L120.73,97.94 L120.78,97.27 L120.84,96.60 L120.89,95.92 L120.94,95.25 L120.99,94.58 L121.04,93.91 L121.09,93.23 L121.15,92.56 L121.20,91.89 L121.25,91.22 L121.30,90.54 L121.41,89.05 L121.57,87.00 L121.72,84.96 L121.87,82.91 L122.02,80.86 L122.17,78.82 L122.32,76.77 L122.47,74.73 L122.61,72.68 L122.76,70.63 L122.90,68.59 L123.04,66.54 L123.18,64.50 L123.32,62.45 L123.46,60.40 L123.59,58.36 L123.73,56.31 L123.86,54.26 L123.99,52.22 L124.12,50.17 L124.25,48.12 L124.38,46.07 L124.51,44.03 L124.63,41.98 L124.76,39.93 L124.88,37.89 L125.00,35.84 L125.12,33.79 L125.24,31.74 L125.35,29.69 L125.47,27.65 L125.58,25.60 L125.70,23.55 L125.81,21.50 L125.92,19.45 L126.02,17.41 L126.13,15.36 L126.24,13.31 L126.34,11.26 L126.44,9.21 L126.46,8.75 L126.47,8.68 L126.47,8.61 L126.47,8.54 L126.48,8.47 L126.48,8.39 L126.48,8.32 L126.49,8.25 L126.49,8.18 L126.49,8.11 L126.50,8.04 L126.50,7.97 L126.51,7.90 L126.51,7.83 L126.51,7.76 L126.52,7.69 L126.52,7.62 L126.52,7.55 L126.53,7.48 L126.53,7.41 L126.53,7.34 L126.54,7.27 L126.54,7.20 L126.54,7.13 L126.55,7.06 L126.55,6.99 L126.55,6.92 L126.56,6.85 L126.56,6.77 L126.56,6.70 L126.57,6.63 L126.57,6.56 L126.57,6.49 L126.58,6.42 L126.58,6.35 L126.58,6.28 L126.59,6.21 L126.59,6.14 L126.59,6.07 L126.60,6.00" stroke="#f00" stroke-dasharray="9.7 5.8" stroke-dashoffset="-1.7"/>
<path d="M110.80,204.00 L111.33,202.96 L111.86,201.93 L112.40,200.89 L112.93,199.86 L113.46,198.82 L113.99,197.79 L114.53,196.75 L115.06,195.72 L115.59,194.68 L116.12,193.65 L116.66,192.61 L117.19,191.58 L117.72,190.54 L118.25,189.51 L118.79,188.47 L119.32,187.44 L119.85,186.40 L120.39,185.37 L120.92,184.33 L121.45,183.30 L121.98,182.26 L122.52,181.22 L123.05,180.19 L123.58,179.15 L124.11,178.12 L124.65,177.08 L125.18,176.05 L125.71,175.01 L126.25,173.98 L126.78,172.94 L127.31,171.91 L127.84,170.87 L128.38,169.84 L128.91,168.80 L129.44,167.77 L129.98,166.73 L130.51,165.70 L131.04,164.66 L131.57,163.63 L132.11,162.59 L132.66,161.51 L133.22,160.44 L133.77,159.37 L134.32,158.29 L134.87,157.22 L135.43,156.15 L135.98,155.08 L136.53,154.00 L137.09,152.93 L137.64,151.86 L138.19,150.78 L138.74,149.71 L139.30,148.64 L139.85,147.56 L140.40,146.49 L140.95,145.42 L141.51,144.35 L142.06,143.27 L142.61,142.20 L143.16,141.13 L143.72,140.05 L144.27,138.98 L144.82,137.91 L145.38,136.84 L145.93,135.76 L146.48,134.69 L147.03,133.62 L147.59,132.54 L148.14,131.47 L148.69,130.40 L149.24,129.33 L149.80,128.25 L150.35,127.18 L150.90,126.11 L151.46,125.03 L152.01,123.96 L152.56,122.89 L153.11,121.82 L153.67,120.74 L154.46,119.21 L155.60,116.98 L156.75,114.76 L157.90,112.53 L159.04,110.31 L160.19,108.08 L161.34,105.85 L162.48,103.63 L163.63,101.40 L164.78,99.18 L165.92,96.95 L167.07,94.73 L168.22,92.50 L169.36,90.27 L170.51,88.05 L171.66,85.82 L172.80,83.60 L173.95,81.37 L175.09,79.15 L176.24,76.92 L177.39,74.69 L178.53,72.47 L179.68,70.24 L180.82,68.02 L181.97,65.79 L183.12,63.56 L184.26,61.34 L185.41,59.11 L186.55,56.88 L187.70,54.66 L188.84,52.43 L189.99,50.21 L191.13,47.98 L192.28,45.75 L193.42,43.53 L194.57,41.30 L195.71,39.07 L196.86,36.85 L198.00,34.62 L199.15,32.39 L199.78,31.16 L200.07,30.59 L200.37,30.02 L200.66,29.45 L200.95,28.88 L201.25,28.31 L201.54,27.74 L201.83,27.17 L202.13,26.59 L202.42,26.02 L202.71,25.45 L203.01,24.88 L203.30,24.31 L203.59,23.74 L203.89,23.17 L204.18,22.60 L204.47,22.03 L204.77,21.46 L205.06,20.89 L205.35,20.32 L205.65,19.75 L205.94,19.17 L206.23,18.60 L206.52,18.03 L206.82,17.46 L207.11,16.89 L207.40,16.32 L207.70,15.75 L207.99,15.18 L208.28,14.61 L208.58,14.04 L208.87,13.47 L209.16,12.90 L209.46,12.33 L209.75,11.75 L210.04,11.18 L210.33,10.61 L210.63,10.04 L210.92,9.47 L211.21,8.90 L211.30,8.73 L211.34,8.66 L211.37,8.59 L211.41,8.52 L211.44,8.45 L211.48,8.38 L211.52,8.31 L211.55,8.24 L211.59,8.17 L211.62,8.10 L211.66,8.03 L211.70,7.96 L211.73,7.89 L211.77,7.82 L211.80,7.75 L211.84,7.68 L211.88,7.61 L211.91,7.54 L211.95,7.47 L211.98,7.40 L212.02,7.33 L212.06,7.26 L212.09,7.19 L212.13,7.12 L212.16,7.05 L212.20,6.98 L212.23,6.91 L212.27,6.84 L212.31,6.77 L212.34,6.70 L212.38,6.63 L212.41,6.56 L212.45,6.49 L212.49,6.42 L212.52,6.35 L212.56,6.28 L212.59,6.21 L212.63,6.14 L212.67,6.07 L212.70,6.00" stroke="#f00" stroke-dasharray="9.7 5.8"/>
</g>
<clipPath id="ca2"><rect x="93.90" y="7.90" width="365.50" height="226.60"/></clipPath>
<g fill="none" stroke-width="2.5" clip-path="url(#ca2)">
<path d="M462.00,21.30 L461.74,21.45 L461.49,21.60 L461.23,21.76 L460.97,21.91 L460.72,22.07 L460.46,22.22 L460.21,22.37 L459.95,22.53 L459.69,22.68 L459.44,22.84 L459.18,22.99 L457.53,23.98 L452.52,26.99 L447.50,29.99 L442.48,32.98 L437.46,35.97 L432.43,38.95 L427.40,41.92 L422.37,44.90 L417.33,47.86 L412.29,50.83 L407.24,53.79 L402.20,56.74 L395.59,60.61 L387.89,65.10 L380.18,69.60 L372.47,74.09 L364.75,78.57 L357.04,83.06 L349.32,87.54 L341.61,92.02 L333.90,96.51 L326.18,101.00 L318.48,105.49 L310.77,109.99 L305.33,113.17 L300.20,116.18 L295.06,119.20 L289.93,122.21 L284.80,125.23 L279.68,128.26 L274.56,131.29 L269.44,134.33 L264.33,137.37 L259.22,140.42 L254.12,143.47 L249.24,146.40 L245.42,148.70 L241.60,151.00 L237.78,153.31 L233.97,155.62 L230.16,157.94 L226.35,160.26 L222.55,162.59 L218.75,164.92 L214.95,167.26 L211.16,169.61 L207.37,171.95 L204.86,173.51 L203.79,174.18 L202.72,174.85 L201.65,175.51 L200.58,176.18 L199.51,176.85 L198.45,177.52 L197.38,178.20 L196.31,178.87 L195.25,179.55 L194.18,180.23 L193.12,180.91 L192.03,181.61 L190.92,182.33 L189.82,183.04 L188.72,183.76 L187.62,184.48 L186.52,185.21 L185.42,185.94 L184.33,186.67 L183.23,187.41 L182.14,188.16 L181.05,188.90 L179.96,189.65 L178.88,190.40 L177.81,191.16 L176.73,191.91 L175.66,192.67 L174.60,193.43 L173.53,194.19 L172.47,194.95 L171.42,195.70 L170.37,196.45 L169.33,197.20 L168.29,197.94 L167.35,198.61 L166.59,199.15 L165.84,199.69 L165.08,200.23 L164.33,200.79 L163.58,201.35 L162.82,201.92 L162.07,202.52 L161.32,203.13 L160.56,203.77 L159.81,204.44 L159.05,205.13 L158.55,205.60 L158.21,205.94 L157.87,206.29 L157.55,206.64 L157.24,207.00 L156.96,207.37 L156.70,207.74 L156.48,208.12 L156.30,208.51 L156.16,208.91 L156.07,209.31 L156.04,209.72 L156.05,210.01 L156.09,210.30 L156.15,210.60 L156.24,210.88 L156.35,211.17 L156.49,211.45 L156.64,211.72 L156.81,211.98 L156.99,212.23 L157.20,212.47 L157.41,212.69 L157.68,212.94 L158.11,213.26 L158.57,213.53 L159.05,213.75 L159.56,213.93 L160.09,214.08 L160.63,214.19 L161.19,214.28 L161.75,214.34 L162.33,214.39 L162.91,214.43 L163.49,214.45 L164.67,214.50 L166.37,214.57 L168.05,214.64 L169.71,214.70 L171.35,214.76 L172.98,214.81 L174.59,214.86 L176.20,214.91 L177.79,214.96 L179.38,215.01 L180.97,215.05 L182.56,215.09 L184.38,215.14 L186.25,215.19 L188.12,215.24 L189.99,215.28 L191.87,215.32 L193.74,215.36 L195.62,215.40 L197.50,215.44 L199.38,215.48 L201.26,215.52 L203.14,215.55 L205.74,215.60 L213.77,215.72 L221.82,215.82 L229.89,215.90 L237.97,215.96 L246.07,216.00 L254.18,216.03 L262.30,216.04 L270.44,216.04 L278.58,216.02 L286.73,216.00 L294.89,215.96 L303.23,215.91 L311.83,215.86 L320.43,215.80 L329.03,215.74 L337.64,215.68 L346.24,215.62 L354.84,215.56 L363.43,215.50 L372.02,215.44 L380.61,215.40 L389.18,215.36 L397.75,215.34 L403.83,215.32 L408.87,215.32 L413.91,215.32 L418.94,215.32 L423.97,215.34 L428.99,215.35 L434.01,215.38 L439.02,215.41 L444.02,215.45 L449.02,215.49 L454.01,215.55 L458.99,215.61" stroke="#f00"/>
<path d="M292.00,6.80 L291.86,6.98 L291.71,7.16 L291.57,7.34 L291.42,7.52 L291.28,7.70 L291.13,7.88 L290.99,8.06 L290.84,8.24 L290.70,8.43 L290.55,8.61 L290.41,8.79 L286.58,13.52 L282.52,18.50 L278.45,23.47 L274.35,28.43 L270.25,33.38 L266.13,38.31 L262.00,43.25 L257.86,48.17 L253.72,53.09 L249.58,58.01 L245.44,62.93 L242.15,66.85 L238.97,70.63 L235.79,74.42 L232.61,78.21 L229.44,82.01 L226.28,85.81 L223.12,89.62 L219.97,93.44 L216.84,97.26 L213.71,101.09 L210.59,104.93 L209.23,106.61 L208.22,107.86 L207.21,109.12 L206.20,110.37 L205.20,111.63 L204.19,112.89 L203.19,114.15 L202.19,115.41 L201.19,116.67 L200.19,117.93 L199.19,119.20 L198.07,120.63 L196.91,122.11 L195.76,123.59 L194.61,125.07 L193.46,126.55 L192.31,128.04 L191.17,129.52 L190.02,131.01 L188.88,132.51 L187.75,134.00 L186.62,135.50 L185.70,136.72 L184.86,137.83 L184.02,138.94 L183.19,140.06 L182.36,141.18 L181.52,142.29 L180.69,143.41 L179.86,144.53 L179.03,145.65 L178.20,146.77 L177.37,147.89 L176.91,148.53 L176.62,148.92 L176.33,149.31 L176.04,149.70 L175.75,150.09 L175.46,150.49 L175.17,150.88 L174.88,151.27 L174.59,151.66 L174.30,152.05 L174.01,152.45 L173.34,153.36 L172.42,154.61 L171.50,155.85 L170.58,157.10 L169.66,158.35 L168.75,159.60 L167.83,160.85 L166.92,162.10 L166.01,163.35 L165.10,164.60 L164.20,165.85 L163.49,166.83 L162.94,167.60 L162.40,168.36 L161.86,169.13 L161.33,169.91 L160.81,170.69 L160.30,171.49 L159.81,172.29 L159.33,173.10 L158.87,173.92 L158.43,174.76 L158.06,175.51 L157.75,176.17 L157.46,176.83 L157.19,177.51 L156.94,178.19 L156.71,178.88 L156.51,179.58 L156.33,180.28 L156.18,180.99 L156.07,181.71 L155.98,182.43 L155.94,183.07 L155.92,183.59 L155.93,184.11 L155.95,184.64 L156.00,185.16 L156.07,185.67 L156.17,186.18 L156.30,186.68 L156.45,187.16 L156.63,187.64 L156.84,188.10 L157.08,188.54 L157.36,188.98 L157.67,189.40 L158.00,189.80 L158.36,190.17 L158.75,190.53 L159.15,190.88 L159.58,191.20 L160.01,191.50 L160.47,191.78 L160.93,192.04 L161.50,192.32 L162.25,192.65 L163.02,192.93 L163.80,193.17 L164.60,193.38 L165.40,193.56 L166.22,193.71 L167.04,193.83 L167.86,193.94 L168.69,194.03 L169.52,194.11 L170.44,194.19 L171.60,194.28 L172.75,194.37 L173.90,194.45 L175.05,194.52 L176.19,194.59 L177.33,194.66 L178.47,194.72 L179.60,194.78 L180.74,194.84 L181.87,194.89 L183.20,194.95 L185.20,195.04 L187.20,195.13 L189.21,195.21 L191.21,195.29 L193.22,195.37 L195.22,195.45 L197.23,195.52 L199.24,195.59 L201.24,195.66 L203.25,195.73 L206.35,195.82 L214.91,196.06 L223.47,196.25 L232.04,196.41 L240.62,196.53 L249.21,196.61 L257.80,196.67 L266.40,196.70 L275.00,196.70 L283.61,196.68 L292.22,196.64 L300.88,196.59 L309.95,196.52 L319.02,196.43 L328.09,196.34 L337.16,196.25 L346.23,196.15 L355.30,196.05 L364.37,195.96 L373.44,195.88 L382.50,195.80 L391.56,195.75 L400.40,195.71 L405.74,195.69 L411.08,195.69 L416.42,195.69 L421.75,195.70 L427.08,195.73 L432.41,195.76 L437.73,195.80 L443.05,195.86 L448.37,195.93 L453.69,196.01 L459.00,196.11" stroke="#0f0"/>
<path d="M228.20,6.80 L228.08,7.01 L227.97,7.22 L227.86,7.43 L227.74,7.64 L227.63,7.85 L227.52,8.06 L227.40,8.27 L227.29,8.49 L227.17,8.70 L226.20,10.49 L224.44,13.72 L222.66,16.95 L220.87,20.18 L219.08,23.40 L217.27,26.63 L215.46,29.85 L213.64,33.08 L211.82,36.31 L210.04,39.47 L208.99,41.32 L207.94,43.18 L206.90,45.04 L205.85,46.90 L204.81,48.75 L203.76,50.61 L202.72,52.47 L201.68,54.33 L200.64,56.20 L199.42,58.39 L198.06,60.83 L196.71,63.27 L195.37,65.72 L194.03,68.17 L192.70,70.62 L191.38,73.07 L190.06,75.53 L188.76,77.99 L187.45,80.47 L186.08,83.10 L184.72,85.74 L183.37,88.38 L182.03,91.03 L180.71,93.68 L179.40,96.33 L178.11,99.00 L176.83,101.66 L175.57,104.34 L174.66,106.30 L173.96,107.83 L173.26,109.36 L172.57,110.90 L171.89,112.43 L171.21,113.97 L170.54,115.51 L169.88,117.05 L169.22,118.59 L168.61,120.04 L168.26,120.89 L167.91,121.73 L167.56,122.58 L167.22,123.42 L166.87,124.27 L166.53,125.12 L166.19,125.97 L165.85,126.82 L165.51,127.67 L165.21,128.45 L164.92,129.18 L164.63,129.92 L164.35,130.66 L164.06,131.40 L163.78,132.13 L163.50,132.87 L163.22,133.62 L162.94,134.36 L162.63,135.17 L162.22,136.27 L161.81,137.37 L161.40,138.48 L161.00,139.59 L160.59,140.70 L160.19,141.81 L159.79,142.93 L159.40,144.04 L159.00,145.16 L158.73,145.93 L158.51,146.56 L158.29,147.19 L158.07,147.82 L157.86,148.46 L157.66,149.09 L157.46,149.73 L157.27,150.36 L157.09,151.00 L156.92,151.64 L156.75,152.29 L156.61,152.94 L156.47,153.58 L156.35,154.24 L156.24,154.89 L156.15,155.55 L156.08,156.21 L156.02,156.87 L155.99,157.54 L155.98,158.21 L155.98,158.88 L156.02,159.55 L156.07,160.22 L156.15,160.89 L156.27,161.55 L156.40,162.20 L156.57,162.85 L156.78,163.49 L157.01,164.11 L157.29,164.73 L157.59,165.33 L157.93,165.92 L158.30,166.48 L158.70,167.02 L159.13,167.53 L159.59,168.02 L160.07,168.48 L160.58,168.92 L161.20,169.37 L161.86,169.80 L162.55,170.19 L163.27,170.54 L164.00,170.86 L164.75,171.15 L165.52,171.42 L166.29,171.66 L167.07,171.89 L168.03,172.15 L169.35,172.47 L170.66,172.77 L171.98,173.04 L173.30,173.28 L174.62,173.50 L175.94,173.70 L177.26,173.87 L178.59,174.02 L179.91,174.16 L181.47,174.29 L183.06,174.41 L184.65,174.50 L186.24,174.58 L187.83,174.64 L189.43,174.69 L191.02,174.73 L192.62,174.77 L194.21,174.80 L195.60,174.82 L196.63,174.84 L197.66,174.86 L198.70,174.88 L199.73,174.89 L200.77,174.91 L201.80,174.93 L202.84,174.95 L203.87,174.96 L204.90,174.98 L209.30,175.06 L214.05,175.13 L218.80,175.21 L223.55,175.28 L228.30,175.36 L233.04,175.43 L237.79,175.50 L242.54,175.56 L247.29,175.63 L253.17,175.71 L260.56,175.80 L267.94,175.89 L275.33,175.98 L282.71,176.06 L290.10,176.14 L297.49,176.21 L304.87,176.28 L312.26,176.34 L319.65,176.40 L328.04,176.46 L336.48,176.51 L344.92,176.56 L353.36,176.60 L361.81,176.64 L370.25,176.66 L378.69,176.68 L387.13,176.69 L395.58,176.70 L402.96,176.70 L409.19,176.69 L415.42,176.68 L421.64,176.67 L427.87,176.65 L434.09,176.63 L440.32,176.60 L446.55,176.57 L452.77,176.53 L459.00,176.49" stroke="#00f"/>
</g>
<circle cx="304.20" cy="214.70" r="4.2" fill="#e0509a" stroke="#000" stroke-width="1.1"/>
<circle cx="438.30" cy="213.40" r="4.2" fill="#e0509a" stroke="#000" stroke-width="1.1"/>
<rect x="91.30" y="7.95" width="2.6" height="228.15" fill="#000"/>
<rect x="91.40" y="233.50" width="368.20" height="2.6" fill="#000"/>
<rect x="92.60" y="188.75" width="3.9" height="1.7" fill="#000"/>
<rect x="92.60" y="143.55" width="3.9" height="1.7" fill="#000"/>
<rect x="92.60" y="98.35" width="3.9" height="1.7" fill="#000"/>
<rect x="92.60" y="53.15" width="3.9" height="1.7" fill="#000"/>
<rect x="92.60" y="7.95" width="3.9" height="1.7" fill="#000"/>
<rect x="92.60" y="222.75" width="2.5" height="1.5" fill="#000"/>
<rect x="92.60" y="211.45" width="2.5" height="1.5" fill="#000"/>
<rect x="92.60" y="200.15" width="2.5" height="1.5" fill="#000"/>
<rect x="92.60" y="177.55" width="2.5" height="1.5" fill="#000"/>
<rect x="92.60" y="166.25" width="2.5" height="1.5" fill="#000"/>
<rect x="92.60" y="154.95" width="2.5" height="1.5" fill="#000"/>
<rect x="92.60" y="132.35" width="2.5" height="1.5" fill="#000"/>
<rect x="92.60" y="121.05" width="2.5" height="1.5" fill="#000"/>
<rect x="92.60" y="109.75" width="2.5" height="1.5" fill="#000"/>
<rect x="92.60" y="87.15" width="2.5" height="1.5" fill="#000"/>
<rect x="92.60" y="75.85" width="2.5" height="1.5" fill="#000"/>
<rect x="92.60" y="64.55" width="2.5" height="1.5" fill="#000"/>
<rect x="92.60" y="41.95" width="2.5" height="1.5" fill="#000"/>
<rect x="92.60" y="30.65" width="2.5" height="1.5" fill="#000"/>
<rect x="92.60" y="19.35" width="2.5" height="1.5" fill="#000"/>
<rect x="152.05" y="230.60" width="1.7" height="4.2" fill="#000"/>
<rect x="213.15" y="230.60" width="1.7" height="4.2" fill="#000"/>
<rect x="274.25" y="230.60" width="1.7" height="4.2" fill="#000"/>
<rect x="335.35" y="230.60" width="1.7" height="4.2" fill="#000"/>
<rect x="396.45" y="230.60" width="1.7" height="4.2" fill="#000"/>
<rect x="457.55" y="230.60" width="1.7" height="4.2" fill="#000"/>
<rect x="103.27" y="232.20" width="1.5" height="2.6" fill="#000"/>
<rect x="115.49" y="232.20" width="1.5" height="2.6" fill="#000"/>
<rect x="127.71" y="232.20" width="1.5" height="2.6" fill="#000"/>
<rect x="139.93" y="232.20" width="1.5" height="2.6" fill="#000"/>
<rect x="164.37" y="232.20" width="1.5" height="2.6" fill="#000"/>
<rect x="176.59" y="232.20" width="1.5" height="2.6" fill="#000"/>
<rect x="188.81" y="232.20" width="1.5" height="2.6" fill="#000"/>
<rect x="201.03" y="232.20" width="1.5" height="2.6" fill="#000"/>
<rect x="225.47" y="232.20" width="1.5" height="2.6" fill="#000"/>
<rect x="237.69" y="232.20" width="1.5" height="2.6" fill="#000"/>
<rect x="249.91" y="232.20" width="1.5" height="2.6" fill="#000"/>
<rect x="262.13" y="232.20" width="1.5" height="2.6" fill="#000"/>
<rect x="286.57" y="232.20" width="1.5" height="2.6" fill="#000"/>
<rect x="298.79" y="232.20" width="1.5" height="2.6" fill="#000"/>
<rect x="311.01" y="232.20" width="1.5" height="2.6" fill="#000"/>
<rect x="323.23" y="232.20" width="1.5" height="2.6" fill="#000"/>
<rect x="347.67" y="232.20" width="1.5" height="2.6" fill="#000"/>
<rect x="359.89" y="232.20" width="1.5" height="2.6" fill="#000"/>
<rect x="372.11" y="232.20" width="1.5" height="2.6" fill="#000"/>
<rect x="384.33" y="232.20" width="1.5" height="2.6" fill="#000"/>
<rect x="408.77" y="232.20" width="1.5" height="2.6" fill="#000"/>
<rect x="420.99" y="232.20" width="1.5" height="2.6" fill="#000"/>
<rect x="433.21" y="232.20" width="1.5" height="2.6" fill="#000"/>
<rect x="445.43" y="232.20" width="1.5" height="2.6" fill="#000"/>
<text x="84.00" y="240.40" font-size="16.00" text-anchor="end">0</text>
<text x="84.00" y="195.20" font-size="16.00" text-anchor="end">2</text>
<text x="84.00" y="150.00" font-size="16.00" text-anchor="end">4</text>
<text x="84.00" y="104.80" font-size="16.00" text-anchor="end">6</text>
<text x="84.00" y="59.60" font-size="16.00" text-anchor="end">8</text>
<text x="84.00" y="14.40" font-size="16.00" text-anchor="end">10</text>
<text x="214.80" y="255.80" font-size="16.00" text-anchor="middle">1.0</text>
<text x="275.50" y="255.80" font-size="16.00" text-anchor="middle">1.5</text>
<text x="336.60" y="255.80" font-size="16.00" text-anchor="middle">2.0</text>
<text x="397.70" y="255.80" font-size="16.00" text-anchor="middle">2.5</text>
<text x="458.40" y="255.80" font-size="16.00" text-anchor="middle">3.0</text>
<text x="1.80" y="20.20" font-size="22.30" text-anchor="start">a</text>
<text x="1.00" y="125.90" font-size="20.20" text-anchor="start" textLength="52.3" lengthAdjust="spacing">L[µm]</text>
<text x="246.60" y="280.80" font-size="20.20" text-anchor="start" textLength="57.0" lengthAdjust="spacing">R[µm]</text>
<text x="146.00" y="255.60" font-size="16.00" text-anchor="start">R</text>
<text x="158.60" y="261.20" font-size="12.50" text-anchor="start">c</text>
<text x="159.90" y="247.80" font-size="12.00" text-anchor="start">i</text>
<clipPath id="cb"><rect x="175.30" y="320.90" width="287.90" height="239.10"/></clipPath>
<clipPath id="cb2"><rect x="93.90" y="320.60" width="371.10" height="239.10"/></clipPath>
<g clip-path="url(#cb)">
<path d="M175,321 L466,321 L466,460.7  L465.19,460.69 L463.43,460.95 L461.67,461.20 L459.91,461.46 L458.15,461.72 L456.39,461.98 L454.63,462.24 L452.87,462.50 L451.10,462.76 L449.34,463.03 L447.58,463.29 L445.82,463.55 L444.05,463.82 L442.29,464.09 L440.53,464.35 L438.76,464.62 L437.00,464.89 L435.23,465.15 L433.47,465.42 L431.71,465.69 L429.90,465.97 L427.74,466.30 L425.59,466.64 L423.43,466.97 L421.27,467.31 L419.11,467.64 L416.96,467.98 L414.80,468.32 L412.64,468.66 L410.48,469.00 L408.32,469.34 L406.16,469.69 L404.00,470.03 L401.84,470.38 L399.69,470.72 L397.53,471.07 L395.37,471.42 L393.21,471.77 L391.05,472.12 L388.89,472.48 L386.38,472.89 L382.49,473.53 L378.60,474.17 L374.71,474.82 L370.82,475.48 L366.93,476.13 L363.04,476.79 L359.15,477.46 L355.26,478.13 L351.37,478.80 L347.48,479.48 L343.60,480.16 L339.71,480.84 L335.82,481.53 L331.94,482.22 L328.06,482.92 L324.18,483.62 L320.29,484.33 L316.41,485.03 L312.54,485.75 L309.11,486.38 L306.73,486.82 L304.36,487.26 L301.99,487.71 L299.61,488.15 L297.24,488.60 L294.87,489.05 L292.50,489.50 L290.13,489.95 L287.76,490.41 L285.39,490.86 L283.02,491.32 L280.65,491.78 L278.29,492.24 L275.92,492.70 L273.56,493.16 L271.19,493.63 L268.83,494.09 L266.46,494.56 L264.10,495.03 L261.83,495.49 L259.68,495.92 L257.53,496.35 L255.38,496.78 L253.24,497.22 L251.09,497.65 L248.95,498.09 L246.80,498.53 L244.66,498.97 L242.52,499.41 L240.38,499.85 L238.24,500.30 L236.10,500.74 L233.96,501.19 L231.82,501.64 L229.68,502.08 L227.55,502.54 L225.41,502.99 L223.28,503.44 L221.15,503.90 L219.65,504.22 L218.79,504.40 L217.93,504.59 L217.06,504.77 L216.20,504.95 L215.34,505.14 L214.48,505.32 L213.61,505.50 L212.75,505.68 L211.89,505.86 L211.02,506.04 L210.16,506.22 L209.29,506.39 L208.43,506.57 L207.56,506.74 L206.69,506.91 L205.82,507.07 L204.95,507.24 L204.08,507.40 L203.20,507.56 L202.44,507.70 L201.74,507.82 L201.05,507.94 L200.35,508.05 L199.66,508.17 L198.96,508.28 L198.26,508.39 L197.56,508.50 L196.86,508.60 L196.16,508.71 L195.46,508.81 L194.75,508.90 L194.04,509.00 L193.34,509.09 L192.63,509.18 L191.92,509.26 L191.21,509.34 L190.49,509.42 L189.78,509.50 L189.06,509.57 L188.52,509.62 L188.07,509.66 L187.62,509.70 L187.16,509.73 L186.71,509.76 L186.25,509.78 L185.80,509.80 L185.35,509.81 L184.90,509.81 L184.46,509.80 L184.01,509.78 L183.57,509.75 L183.13,509.71 L182.70,509.66 L182.27,509.59 L181.84,509.50 L181.42,509.40 L181.00,509.28 L180.59,509.15 L180.18,509.00 L179.89,508.87 L179.63,508.75 L179.37,508.62 L179.11,508.48 L178.86,508.34 L178.61,508.18 L178.37,508.02 L178.13,507.85 L177.89,507.68 L177.67,507.49 L177.44,507.30 L177.23,507.10 L177.01,506.90 L176.81,506.69 L176.61,506.47 L176.42,506.24 L176.24,506.01 L176.06,505.77 L175.89,505.52 L175.73,505.27 L175.61,505.07 L175.50,504.86 L175.39,504.66 L175.29,504.45 L175.19,504.23 L175.10,504.01 L175.01,503.79 L174.94,503.57 L174.87,503.35 L174.80,503.12 L174.74,502.89 L174.69,502.65 L174.65,502.41 L174.61,502.18 L174.58,501.93 L174.56,501.69 L174.55,501.45 L174.54,501.20 L174.54,500.95 L174.56,500.70 Z" fill="rgb(63,61,153)" fill-opacity="0.2"/>
<path d="M175,321 L466,321 L466,361.5  L465.20,361.49 L462.91,362.19 L460.62,362.88 L458.33,363.58 L456.04,364.27 L453.75,364.97 L451.46,365.66 L449.17,366.36 L446.88,367.06 L444.59,367.75 L442.29,368.45 L440.00,369.15 L437.71,369.85 L435.42,370.55 L433.13,371.26 L430.84,371.96 L428.18,372.78 L425.35,373.65 L422.52,374.52 L419.70,375.39 L416.87,376.27 L414.04,377.15 L411.22,378.03 L408.39,378.91 L405.57,379.80 L402.75,380.68 L399.92,381.57 L397.10,382.47 L394.28,383.36 L391.46,384.26 L388.64,385.16 L385.72,386.10 L382.63,387.09 L379.55,388.09 L376.47,389.09 L373.39,390.10 L370.32,391.11 L367.24,392.12 L364.17,393.14 L361.10,394.17 L358.02,395.19 L354.96,396.23 L351.89,397.27 L348.83,398.31 L345.76,399.36 L342.70,400.42 L339.73,401.45 L337.78,402.13 L335.84,402.81 L333.89,403.49 L331.95,404.18 L330.01,404.86 L328.07,405.55 L326.13,406.25 L324.19,406.94 L322.25,407.64 L320.31,408.34 L318.37,409.05 L316.44,409.76 L314.51,410.46 L312.57,411.18 L310.64,411.89 L307.67,413.00 L304.39,414.23 L301.12,415.47 L297.84,416.71 L294.57,417.96 L291.30,419.22 L288.04,420.49 L284.77,421.75 L281.51,423.03 L278.25,424.31 L274.99,425.59 L271.73,426.88 L268.47,428.16 L265.21,429.46 L261.96,430.75 L258.99,431.93 L256.38,432.97 L253.76,434.01 L251.14,435.06 L248.52,436.10 L245.91,437.15 L243.29,438.19 L240.67,439.23 L238.04,440.28 L235.42,441.32 L232.80,442.36 L230.18,443.40 L227.55,444.43 L224.92,445.47 L222.30,446.50 L220.00,447.40 L219.51,447.59 L219.03,447.78 L218.54,447.97 L218.06,448.16 L217.58,448.35 L217.10,448.54 L216.61,448.74 L216.13,448.93 L215.65,449.12 L215.17,449.32 L214.69,449.52 L214.21,449.71 L213.73,449.91 L213.25,450.12 L212.78,450.32 L212.07,450.62 L211.33,450.95 L210.59,451.28 L209.85,451.62 L209.12,451.95 L208.38,452.29 L207.65,452.62 L206.91,452.96 L206.17,453.30 L205.44,453.63 L204.70,453.96 L203.96,454.28 L203.22,454.61 L202.48,454.92 L201.74,455.23 L201.01,455.52 L200.30,455.80 L199.59,456.07 L198.88,456.33 L198.16,456.58 L197.44,456.83 L196.71,457.06 L195.98,457.28 L195.24,457.48 L194.50,457.68 L193.76,457.86 L193.00,458.02 L192.25,458.18 L191.48,458.31 L190.71,458.43 L189.99,458.52 L189.45,458.59 L188.90,458.64 L188.36,458.68 L187.81,458.70 L187.26,458.72 L186.72,458.72 L186.17,458.70 L185.63,458.67 L185.10,458.63 L184.56,458.56 L184.03,458.47 L183.51,458.37 L183.00,458.24 L182.49,458.09 L181.99,457.91 L181.60,457.76 L181.22,457.59 L180.85,457.41 L180.49,457.21 L180.13,457.00 L179.78,456.77 L179.44,456.54 L179.11,456.29 L178.78,456.02 L178.47,455.75 L178.17,455.47 L177.87,455.17 L177.59,454.86 L177.32,454.55 L177.05,454.22 L176.77,453.84 L176.48,453.41 L176.22,452.97 L175.97,452.52 L175.74,452.06 L175.53,451.59 L175.35,451.11 L175.19,450.62 L175.05,450.12 L174.93,449.61 L174.84,449.09 L174.78,448.57 L174.74,448.05 L174.72,447.52 L174.74,446.98 L174.78,446.47 L174.84,446.03 L174.90,445.59 L174.99,445.14 L175.08,444.70 L175.17,444.27 L175.27,443.83 L175.36,443.41 L175.45,442.98 L175.53,442.57 L175.60,442.16 L175.65,441.76 L175.69,441.38 L175.70,441.00 L175.69,440.64 L175.66,440.29 Z" fill="rgb(153,61,113)" fill-opacity="0.2"/>
<path d="M175,321  L175.29,381.92 L175.32,382.41 L175.35,382.91 L175.38,383.41 L175.40,383.91 L175.42,384.40 L175.44,384.90 L175.45,385.40 L175.46,385.89 L175.48,386.39 L175.49,386.88 L175.50,387.38 L175.51,387.88 L175.53,388.37 L175.54,388.87 L175.56,389.31 L175.58,389.74 L175.59,390.17 L175.62,390.60 L175.64,391.03 L175.67,391.46 L175.70,391.89 L175.73,392.32 L175.77,392.75 L175.81,393.18 L175.86,393.61 L175.91,394.05 L175.97,394.48 L176.03,394.91 L176.11,395.42 L176.22,395.99 L176.33,396.55 L176.45,397.11 L176.59,397.67 L176.75,398.22 L176.92,398.77 L177.10,399.31 L177.31,399.85 L177.53,400.37 L177.77,400.88 L178.04,401.38 L178.33,401.87 L178.64,402.34 L178.96,402.79 L179.30,403.21 L179.66,403.62 L180.04,404.00 L180.43,404.37 L180.85,404.71 L181.28,405.04 L181.72,405.34 L182.18,405.62 L182.65,405.88 L183.13,406.11 L183.62,406.31 L184.12,406.48 L184.63,406.63 L185.14,406.74 L185.66,406.83 L186.18,406.88 L186.71,406.91 L187.24,406.91 L187.77,406.88 L188.31,406.83 L188.84,406.77 L189.38,406.68 L189.92,406.58 L190.45,406.46 L190.99,406.32 L191.52,406.18 L192.04,406.03 L192.57,405.86 L193.31,405.62 L194.05,405.36 L194.79,405.09 L195.52,404.80 L196.25,404.51 L196.97,404.20 L197.68,403.89 L198.38,403.56 L199.08,403.23 L199.78,402.89 L200.47,402.55 L201.15,402.20 L201.84,401.84 L202.52,401.48 L203.22,401.10 L203.93,400.71 L204.63,400.32 L205.34,399.93 L206.04,399.53 L206.74,399.13 L207.44,398.73 L208.14,398.32 L208.84,397.91 L209.53,397.50 L210.23,397.09 L210.92,396.68 L211.62,396.27 L212.31,395.85 L212.92,395.49 L213.43,395.19 L213.95,394.88 L214.46,394.58 L214.97,394.27 L215.49,393.96 L216.00,393.65 L216.52,393.35 L217.03,393.04 L217.54,392.73 L218.06,392.43 L218.57,392.12 L219.09,391.81 L219.60,391.50 L220.37,391.04 L221.78,390.20 L223.18,389.36 L224.59,388.52 L225.99,387.67 L227.40,386.83 L228.81,385.99 L230.21,385.14 L231.62,384.30 L233.02,383.45 L234.43,382.61 L235.84,381.76 L237.24,380.92 L238.65,380.07 L240.05,379.23 L241.47,378.38 L242.89,377.52 L244.30,376.67 L245.72,375.82 L247.13,374.97 L248.55,374.12 L249.97,373.27 L251.38,372.42 L252.80,371.57 L254.22,370.72 L255.63,369.87 L257.05,369.02 L258.47,368.17 L259.89,367.32 L261.32,366.47 L262.74,365.62 L264.17,364.76 L265.60,363.91 L267.03,363.06 L268.46,362.21 L269.89,361.36 L271.32,360.51 L272.75,359.66 L274.18,358.81 L275.61,357.96 L277.05,357.11 L278.48,356.27 L279.91,355.42 L281.75,354.34 L283.82,353.13 L285.88,351.91 L287.95,350.70 L290.02,349.50 L292.09,348.29 L294.16,347.09 L296.23,345.89 L298.31,344.69 L300.39,343.50 L302.46,342.31 L304.54,341.12 L306.62,339.93 L308.70,338.75 L310.81,337.56 L312.95,336.35 L315.09,335.15 L317.24,333.95 L319.38,332.76 L321.53,331.57 L323.68,330.38 L325.83,329.20 L327.99,328.02 L330.14,326.84 L332.30,325.67 L334.46,324.51 L336.63,323.35 L338.79,322.19 L340.64,321.21 L341.31,320.86 L341.97,320.51 L342.64,320.16 L343.31,319.80 L343.98,319.45 L344.65,319.10 L345.32,318.75 L345.99,318.40 L346.65,318.05 L347.32,317.70 L347.99,317.36 L348.67,317.01 L349.34,316.66 L350.01,316.31 L350,321 Z" fill="rgb(153,139,61)" fill-opacity="0.2"/>
</g>
<path d="M174.2,320.7 L174.2,559" stroke="#7f7f7f" stroke-width="2.4" stroke-dasharray="7.0 8.69" stroke-dashoffset="2.5" fill="none"/>
<g clip-path="url(#cb2)" fill="none" stroke-width="2.5">
<path d="M174.60,500.81 L175.08,500.49 L175.55,500.17 L176.02,499.86 L176.49,499.54 L176.96,499.22 L177.44,498.90 L177.91,498.59 L178.38,498.27 L178.85,497.95 L179.32,497.64 L179.80,497.32 L180.27,497.01 L180.74,496.69 L181.21,496.37 L181.69,496.06 L182.16,495.74 L182.63,495.43 L183.11,495.11 L183.58,494.80 L184.05,494.48 L184.53,494.17 L185.00,493.86 L185.71,493.39 L186.44,492.90 L187.17,492.42 L187.91,491.93 L188.64,491.45 L189.38,490.96 L190.11,490.48 L190.85,490.00 L191.58,489.52 L192.32,489.03 L193.05,488.55 L193.79,488.07 L194.53,487.59 L195.26,487.11 L196.00,486.63 L196.74,486.15 L197.47,485.67 L198.21,485.19 L198.95,484.71 L199.69,484.23 L200.42,483.75 L201.16,483.28 L201.86,482.82 L202.55,482.38 L203.23,481.94 L203.92,481.50 L204.61,481.06 L205.29,480.61 L205.98,480.17 L206.67,479.73 L207.36,479.29 L208.04,478.85 L208.73,478.41 L209.42,477.97 L210.11,477.53 L210.80,477.09 L211.49,476.66 L212.17,476.22 L212.86,475.78 L213.55,475.34 L214.24,474.90 L214.93,474.47 L215.62,474.03 L216.31,473.59 L217.85,472.63 L219.81,471.39 L221.77,470.16 L223.73,468.93 L225.70,467.71 L227.66,466.49 L229.63,465.27 L231.60,464.05 L233.57,462.83 L235.54,461.62 L237.51,460.41 L239.49,459.20 L241.46,458.00 L243.44,456.79 L245.42,455.59 L247.40,454.40 L249.38,453.20 L251.37,452.01 L253.35,450.82 L255.34,449.63 L257.32,448.44 L259.31,447.26 L261.45,445.99 L263.69,444.66 L265.94,443.34 L268.19,442.01 L270.44,440.69 L272.70,439.37 L274.95,438.06 L277.21,436.75 L279.47,435.44 L281.73,434.13 L283.99,432.83 L286.26,431.52 L288.52,430.23 L290.79,428.93 L293.06,427.64 L295.33,426.35 L297.60,425.06 L299.87,423.77 L302.14,422.49 L304.42,421.21 L306.70,419.93 L308.98,418.66 L310.84,417.62 L312.18,416.88 L313.52,416.13 L314.86,415.39 L316.20,414.64 L317.54,413.90 L318.88,413.16 L320.23,412.42 L321.57,411.68 L322.91,410.94 L324.26,410.20 L325.60,409.46 L326.95,408.73 L328.29,407.99 L329.64,407.25 L330.98,406.52 L332.33,405.79 L333.68,405.05 L335.02,404.32 L336.37,403.59 L337.72,402.86 L339.07,402.13 L340.67,401.27 L342.78,400.13 L344.88,399.00 L346.99,397.87 L349.10,396.74 L351.21,395.62 L353.32,394.49 L355.43,393.37 L357.54,392.25 L359.65,391.13 L361.76,390.01 L363.88,388.89 L366.00,387.78 L368.11,386.67 L370.23,385.56 L372.35,384.45 L374.47,383.34 L376.59,382.24 L378.71,381.13 L380.83,380.03 L382.95,378.93 L385.08,377.83 L387.16,376.75 L389.13,375.74 L391.09,374.74 L393.05,373.73 L395.01,372.72 L396.97,371.72 L398.94,370.71 L400.90,369.71 L402.87,368.71 L404.83,367.71 L406.80,366.71 L408.77,365.71 L410.73,364.72 L412.70,363.72 L414.67,362.73 L416.64,361.73 L418.61,360.74 L420.58,359.75 L422.55,358.76 L424.52,357.78 L426.50,356.79 L428.47,355.80 L430.40,354.84 L431.98,354.05 L433.56,353.27 L435.13,352.48 L436.71,351.70 L438.29,350.92 L439.87,350.13 L441.46,349.35 L443.04,348.57 L444.62,347.79 L446.20,347.01 L447.78,346.23 L449.36,345.45 L450.94,344.67 L452.53,343.89 L454.11,343.11 L455.69,342.34 L457.28,341.56 L458.86,340.79 L460.44,340.01 L462.03,339.24 L463.61,338.47 L465.20,337.69" stroke="#f00" stroke-dasharray="14 6.4" stroke-dashoffset="5"/>
<path d="M178.79,435.29 L179.29,434.68 L179.78,434.07 L180.28,433.46 L180.77,432.85 L181.27,432.23 L181.76,431.62 L182.25,431.01 L182.75,430.40 L183.24,429.78 L183.73,429.17 L184.22,428.56 L184.72,427.94 L185.21,427.33 L185.70,426.71 L186.19,426.10 L186.68,425.48 L187.17,424.87 L187.66,424.25 L188.15,423.64 L188.64,423.02 L189.13,422.41 L189.62,421.79 L190.11,421.18 L190.60,420.56 L191.08,419.94 L191.57,419.33 L192.06,418.71 L192.55,418.09 L193.04,417.47 L193.54,416.84 L194.04,416.21 L194.53,415.58 L195.03,414.95 L195.53,414.31 L196.02,413.68 L196.52,413.05 L197.01,412.42 L197.51,411.79 L198.01,411.16 L198.50,410.52 L199.00,409.89 L199.49,409.26 L199.99,408.63 L200.48,407.99 L200.98,407.36 L201.47,406.73 L201.96,406.10 L202.46,405.46 L202.95,404.83 L203.44,404.20 L203.94,403.56 L204.43,402.93 L204.92,402.30 L205.42,401.66 L205.91,401.03 L206.40,400.39 L206.86,399.80 L207.14,399.45 L207.41,399.09 L207.69,398.74 L207.96,398.39 L208.24,398.03 L208.51,397.68 L208.79,397.32 L209.06,396.97 L209.34,396.62 L209.61,396.26 L209.88,395.91 L210.16,395.55 L210.43,395.20 L210.71,394.85 L210.98,394.49 L211.25,394.14 L211.53,393.78 L211.80,393.43 L212.08,393.08 L212.35,392.72 L212.63,392.37 L212.90,392.01 L213.17,391.66 L213.45,391.30 L213.72,390.95 L213.99,390.60 L214.27,390.24 L214.54,389.89 L214.75,389.62 L214.93,389.39 L215.10,389.16 L215.28,388.93 L215.46,388.70 L215.64,388.47 L215.82,388.24 L215.99,388.01 L216.17,387.78 L216.35,387.55 L216.53,387.32 L216.70,387.09 L216.88,386.86 L217.06,386.63 L217.24,386.40 L217.42,386.17 L217.59,385.94 L217.77,385.71 L217.95,385.47 L218.13,385.24 L218.30,385.01 L218.48,384.78 L218.66,384.55 L218.84,384.32 L219.02,384.09 L219.19,383.86 L219.37,383.63 L219.55,383.40 L219.90,382.94 L220.70,381.90 L221.50,380.87 L222.30,379.83 L223.10,378.79 L223.90,377.76 L224.70,376.72 L225.50,375.68 L226.30,374.65 L227.10,373.61 L227.90,372.58 L228.70,371.54 L229.50,370.51 L230.30,369.47 L231.11,368.44 L231.91,367.40 L232.71,366.37 L233.51,365.33 L234.32,364.30 L235.12,363.27 L235.93,362.24 L236.73,361.20 L237.54,360.17 L238.35,359.14 L239.15,358.11 L239.96,357.08 L240.77,356.05 L241.58,355.02 L242.39,354.00 L243.30,352.85 L244.22,351.68 L245.15,350.52 L246.08,349.35 L247.01,348.19 L247.94,347.03 L248.87,345.86 L249.80,344.70 L250.74,343.55 L251.68,342.39 L252.61,341.23 L253.55,340.08 L254.50,338.92 L255.44,337.77 L256.39,336.62 L257.33,335.47 L258.28,334.33 L259.24,333.18 L260.19,332.04 L261.15,330.89 L262.11,329.75 L263.07,328.61 L264.03,327.48 L265.00,326.34 L265.97,325.21 L266.94,324.08 L267.91,322.95 L268.89,321.82 L269.52,321.10 L269.67,320.92 L269.83,320.74 L269.99,320.55 L270.15,320.37 L270.31,320.19 L270.47,320.01 L270.63,319.82 L270.79,319.64 L270.95,319.46 L271.11,319.28 L271.27,319.09 L271.43,318.91 L271.59,318.73 L271.75,318.55 L271.91,318.36 L272.07,318.18 L272.23,318.00 L272.39,317.82 L272.56,317.64 L272.72,317.46 L272.88,317.27 L273.04,317.09 L273.20,316.91 L273.36,316.73 L273.52,316.55 L273.68,316.37 L273.84,316.18 L274.00,316.00" stroke="#0f0" stroke-dasharray="14 6.4" stroke-dashoffset="4.2"/>
<path d="M174.58,500.75 L174.57,501.00 L174.56,501.25 L174.57,501.49 L174.58,501.74 L174.60,501.98 L174.63,502.22 L174.67,502.45 L174.71,502.69 L174.76,502.92 L174.81,503.15 L174.88,503.37 L174.95,503.60 L175.02,503.82 L175.11,504.03 L175.20,504.25 L175.29,504.46 L175.39,504.67 L175.50,504.87 L175.61,505.07 L175.73,505.28 L175.89,505.53 L176.06,505.77 L176.23,506.01 L176.42,506.24 L176.61,506.46 L176.81,506.68 L177.01,506.89 L177.22,507.10 L177.44,507.29 L177.66,507.49 L177.89,507.67 L178.13,507.85 L178.37,508.02 L178.61,508.18 L178.86,508.33 L179.11,508.48 L179.36,508.62 L179.62,508.75 L179.89,508.87 L180.18,508.99 L180.59,509.15 L181.00,509.28 L181.42,509.40 L181.84,509.50 L182.27,509.59 L182.70,509.66 L183.13,509.71 L183.57,509.75 L184.01,509.78 L184.46,509.80 L184.90,509.81 L185.35,509.81 L185.80,509.80 L186.25,509.79 L186.71,509.76 L187.16,509.73 L187.62,509.70 L188.07,509.66 L188.53,509.62 L189.06,509.57 L189.78,509.50 L190.49,509.42 L191.21,509.35 L191.92,509.26 L192.63,509.18 L193.34,509.09 L194.05,509.00 L194.75,508.91 L195.46,508.81 L196.16,508.71 L196.86,508.61 L197.56,508.50 L198.26,508.39 L198.96,508.28 L199.66,508.17 L200.36,508.06 L201.05,507.94 L201.74,507.82 L202.44,507.70 L203.20,507.56 L204.08,507.40 L204.95,507.24 L205.82,507.08 L206.69,506.91 L207.56,506.74 L208.43,506.57 L209.29,506.40 L210.16,506.22 L211.02,506.04 L211.89,505.86 L212.75,505.69 L213.62,505.50 L214.48,505.32 L215.34,505.14 L216.20,504.96 L217.06,504.77 L217.93,504.59 L218.79,504.40 L219.65,504.22 L221.15,503.90 L223.28,503.44 L225.41,502.99 L227.55,502.53 L229.68,502.08 L231.82,501.63 L233.96,501.18 L236.10,500.74 L238.24,500.29 L240.38,499.85 L242.52,499.40 L244.66,498.96 L246.80,498.52 L248.95,498.08 L251.09,497.65 L253.24,497.21 L255.38,496.78 L257.53,496.34 L259.68,495.91 L261.82,495.48 L264.10,495.03 L266.46,494.56 L268.83,494.09 L271.19,493.62 L273.55,493.16 L275.92,492.69 L278.29,492.23 L280.65,491.77 L283.02,491.31 L285.39,490.86 L287.76,490.40 L290.13,489.95 L292.50,489.50 L294.87,489.05 L297.24,488.60 L299.61,488.15 L301.99,487.70 L304.36,487.26 L306.73,486.82 L309.11,486.38 L312.53,485.74 L316.41,485.03 L320.29,484.32 L324.17,483.62 L328.06,482.92 L331.94,482.22 L335.82,481.53 L339.71,480.84 L343.60,480.15 L347.48,479.47 L351.37,478.80 L355.26,478.13 L359.15,477.46 L363.04,476.79 L366.93,476.13 L370.82,475.48 L374.71,474.82 L378.60,474.18 L382.49,473.53 L386.38,472.89 L388.89,472.48 L391.05,472.13 L393.21,471.77 L395.37,471.42 L397.53,471.07 L399.69,470.73 L401.85,470.38 L404.00,470.03 L406.16,469.69 L408.32,469.35 L410.48,469.00 L412.64,468.66 L414.80,468.32 L416.96,467.98 L419.12,467.65 L421.27,467.31 L423.43,466.98 L425.59,466.64 L427.75,466.31 L429.90,465.98 L431.71,465.70 L433.47,465.43 L435.24,465.16 L437.00,464.89 L438.76,464.62 L440.53,464.36 L442.29,464.09 L444.05,463.82 L445.82,463.56 L447.58,463.30 L449.34,463.03 L451.11,462.77 L452.87,462.51 L454.63,462.25 L456.39,461.99 L458.15,461.73 L459.92,461.47 L461.68,461.21 L463.44,460.95 L465.20,460.70" stroke="#f00"/>
<path d="M178.79,435.30 L178.48,435.61 L178.18,435.93 L177.90,436.25 L177.63,436.58 L177.38,436.91 L177.13,437.26 L176.90,437.61 L176.69,437.96 L176.48,438.32 L176.29,438.69 L176.11,439.06 L175.95,439.44 L175.79,439.82 L175.65,440.21 L175.51,440.62 L175.38,441.05 L175.26,441.48 L175.16,441.91 L175.07,442.35 L174.99,442.79 L174.92,443.23 L174.87,443.68 L174.82,444.13 L174.79,444.58 L174.77,445.04 L174.75,445.49 L174.75,445.95 L174.76,446.41 L174.78,446.93 L174.82,447.49 L174.87,448.06 L174.94,448.62 L175.03,449.18 L175.13,449.73 L175.26,450.28 L175.40,450.82 L175.57,451.35 L175.76,451.87 L175.97,452.37 L176.20,452.87 L176.46,453.35 L176.75,453.81 L177.04,454.23 L177.31,454.59 L177.59,454.93 L177.90,455.25 L178.22,455.57 L178.55,455.87 L178.90,456.16 L179.25,456.43 L179.62,456.69 L180.00,456.93 L180.39,457.16 L180.79,457.37 L181.20,457.57 L181.61,457.75 L182.05,457.91 L182.59,458.10 L183.14,458.25 L183.70,458.38 L184.27,458.49 L184.84,458.58 L185.41,458.64 L185.99,458.68 L186.57,458.71 L187.15,458.71 L187.74,458.70 L188.32,458.67 L188.91,458.63 L189.49,458.58 L190.07,458.52 L190.88,458.41 L191.70,458.28 L192.52,458.12 L193.33,457.95 L194.14,457.77 L194.94,457.56 L195.73,457.34 L196.52,457.11 L197.31,456.86 L198.09,456.60 L198.87,456.33 L199.64,456.05 L200.41,455.76 L201.18,455.47 L201.97,455.15 L202.78,454.82 L203.58,454.48 L204.38,454.14 L205.18,453.79 L205.98,453.44 L206.77,453.08 L207.57,452.73 L208.36,452.36 L209.15,452.00 L209.95,451.64 L210.74,451.27 L211.53,450.91 L212.32,450.55 L212.98,450.25 L213.48,450.02 L213.99,449.79 L214.50,449.56 L215.01,449.33 L215.52,449.10 L216.03,448.88 L216.54,448.65 L217.05,448.42 L217.56,448.20 L218.07,447.98 L218.58,447.75 L219.09,447.53 L219.61,447.31 L220.77,446.81 L223.56,445.62 L226.36,444.45 L229.17,443.30 L231.99,442.16 L234.81,441.03 L237.63,439.92 L240.46,438.81 L243.29,437.72 L246.13,436.63 L248.97,435.55 L251.81,434.47 L254.65,433.39 L257.49,432.32 L260.37,431.22 L263.91,429.88 L267.44,428.53 L270.96,427.19 L274.49,425.84 L278.02,424.49 L281.54,423.14 L285.07,421.79 L288.60,420.44 L292.12,419.10 L295.65,417.75 L299.18,416.41 L302.70,415.08 L306.23,413.74 L309.77,412.41 L312.05,411.56 L314.13,410.78 L316.21,410.01 L318.29,409.23 L320.37,408.46 L322.45,407.70 L324.53,406.93 L326.61,406.17 L328.70,405.41 L330.78,404.65 L332.87,403.90 L334.96,403.15 L337.05,402.40 L339.14,401.66 L342.00,400.65 L345.28,399.50 L348.58,398.36 L351.87,397.22 L355.17,396.09 L358.47,394.97 L361.78,393.86 L365.08,392.75 L368.39,391.65 L371.70,390.56 L375.02,389.48 L378.33,388.40 L381.65,387.32 L384.97,386.25 L388.17,385.23 L391.21,384.26 L394.25,383.30 L397.29,382.34 L400.33,381.38 L403.38,380.43 L406.42,379.48 L409.46,378.53 L412.51,377.59 L415.55,376.65 L418.60,375.71 L421.65,374.77 L424.69,373.84 L427.74,372.90 L430.66,372.01 L433.13,371.26 L435.60,370.50 L438.07,369.75 L440.54,369.00 L443.00,368.25 L445.47,367.50 L447.94,366.75 L450.41,366.00 L452.87,365.25 L455.34,364.50 L457.81,363.75 L460.27,363.00 L462.73,362.25 L465.20,361.50" stroke="#0f0"/>
<path d="M175.29,381.92 L175.32,382.41 L175.35,382.91 L175.38,383.41 L175.40,383.91 L175.42,384.40 L175.44,384.90 L175.45,385.40 L175.46,385.89 L175.48,386.39 L175.49,386.88 L175.50,387.38 L175.51,387.88 L175.53,388.37 L175.54,388.87 L175.56,389.31 L175.58,389.74 L175.59,390.17 L175.62,390.60 L175.64,391.03 L175.67,391.46 L175.70,391.89 L175.73,392.32 L175.77,392.75 L175.81,393.18 L175.86,393.61 L175.91,394.05 L175.97,394.48 L176.03,394.91 L176.11,395.42 L176.22,395.99 L176.33,396.55 L176.45,397.11 L176.59,397.67 L176.75,398.22 L176.92,398.77 L177.10,399.31 L177.31,399.85 L177.53,400.37 L177.77,400.88 L178.04,401.38 L178.33,401.87 L178.64,402.34 L178.96,402.79 L179.30,403.21 L179.66,403.62 L180.04,404.00 L180.43,404.37 L180.85,404.71 L181.28,405.04 L181.72,405.34 L182.18,405.62 L182.65,405.88 L183.13,406.11 L183.62,406.31 L184.12,406.48 L184.63,406.63 L185.14,406.74 L185.66,406.83 L186.18,406.88 L186.71,406.91 L187.24,406.91 L187.77,406.88 L188.31,406.83 L188.84,406.77 L189.38,406.68 L189.92,406.58 L190.45,406.46 L190.99,406.32 L191.52,406.18 L192.04,406.03 L192.57,405.86 L193.31,405.62 L194.05,405.36 L194.79,405.09 L195.52,404.80 L196.25,404.51 L196.97,404.20 L197.68,403.89 L198.38,403.56 L199.08,403.23 L199.78,402.89 L200.47,402.55 L201.15,402.20 L201.84,401.84 L202.52,401.48 L203.22,401.10 L203.93,400.71 L204.63,400.32 L205.34,399.93 L206.04,399.53 L206.74,399.13 L207.44,398.73 L208.14,398.32 L208.84,397.91 L209.53,397.50 L210.23,397.09 L210.92,396.68 L211.62,396.27 L212.31,395.85 L212.92,395.49 L213.43,395.19 L213.95,394.88 L214.46,394.58 L214.97,394.27 L215.49,393.96 L216.00,393.65 L216.52,393.35 L217.03,393.04 L217.54,392.73 L218.06,392.43 L218.57,392.12 L219.09,391.81 L219.60,391.50 L220.37,391.04 L221.78,390.20 L223.18,389.36 L224.59,388.52 L225.99,387.67 L227.40,386.83 L228.81,385.99 L230.21,385.14 L231.62,384.30 L233.02,383.45 L234.43,382.61 L235.84,381.76 L237.24,380.92 L238.65,380.07 L240.05,379.23 L241.47,378.38 L242.89,377.52 L244.30,376.67 L245.72,375.82 L247.13,374.97 L248.55,374.12 L249.97,373.27 L251.38,372.42 L252.80,371.57 L254.22,370.72 L255.63,369.87 L257.05,369.02 L258.47,368.17 L259.89,367.32 L261.32,366.47 L262.74,365.62 L264.17,364.76 L265.60,363.91 L267.03,363.06 L268.46,362.21 L269.89,361.36 L271.32,360.51 L272.75,359.66 L274.18,358.81 L275.61,357.96 L277.05,357.11 L278.48,356.27 L279.91,355.42 L281.75,354.34 L283.82,353.13 L285.88,351.91 L287.95,350.70 L290.02,349.50 L292.09,348.29 L294.16,347.09 L296.23,345.89 L298.31,344.69 L300.39,343.50 L302.46,342.31 L304.54,341.12 L306.62,339.93 L308.70,338.75 L310.81,337.56 L312.95,336.35 L315.09,335.15 L317.24,333.95 L319.38,332.76 L321.53,331.57 L323.68,330.38 L325.83,329.20 L327.99,328.02 L330.14,326.84 L332.30,325.67 L334.46,324.51 L336.63,323.35 L338.79,322.19 L340.64,321.21 L341.31,320.86 L341.97,320.51 L342.64,320.16 L343.31,319.80 L343.98,319.45 L344.65,319.10 L345.32,318.75 L345.99,318.40 L346.65,318.05 L347.32,317.70 L347.99,317.36 L348.67,317.01 L349.34,316.66 L350.01,316.31" stroke="#00f"/>
</g>
<path d="M147.63,347.50 L147.67,347.72 L147.72,347.94 L147.77,348.16 L147.81,348.39 L147.86,348.61 L147.91,348.83 L147.96,349.05 L148.00,349.27 L148.05,349.49 L148.11,349.77 L148.41,351.10 L148.71,352.44 L149.01,353.77 L149.33,355.11 L149.64,356.44 L149.97,357.78 L150.30,359.11 L150.64,360.44 L150.98,361.78 L151.33,363.12 L151.71,364.54 L152.10,365.95 L152.49,367.37 L152.89,368.78 L153.30,370.20 L153.72,371.61 L154.14,373.02 L154.58,374.43 L155.02,375.84 L155.46,377.24 L155.92,378.65 L156.38,380.05 L156.85,381.45 L157.33,382.84 L157.82,384.24 L158.31,385.63 L158.81,387.02 L159.33,388.40 L159.84,389.79 L160.36,391.14 L160.84,392.36 L161.32,393.59 L161.81,394.81 L162.31,396.03 L162.81,397.24 L163.32,398.45 L163.84,399.66 L164.36,400.87 L164.89,402.07 L165.41,403.22 L165.86,404.21 L166.31,405.20 L166.77,406.18 L167.24,407.17 L167.71,408.15 L168.18,409.12 L168.66,410.10 L169.14,411.07 L169.63,412.04 L170.10,412.96 L170.52,413.76 L170.94,414.57 L171.37,415.37 L171.79,416.18 L172.22,416.98 L172.66,417.77 L173.10,418.57 L173.54,419.36 L173.99,420.15 L174.55,421.15 L175.35,422.52 L176.16,423.88 L176.98,425.24 L177.81,426.59 L178.65,427.93 L179.50,429.27 L180.37,430.60 L181.25,431.91 L182.13,433.22 L183.06,434.57 L184.04,435.96 L185.04,437.34 L186.05,438.71 L187.07,440.07 L188.11,441.42 L189.16,442.76 L190.23,444.09 L191.31,445.40 L192.40,446.71 L193.38,447.84 L194.20,448.78 L195.02,449.71 L195.85,450.63 L196.69,451.55 L197.54,452.46 L198.40,453.36 L199.26,454.26 L200.13,455.15 L201.01,456.03 L201.87,456.88 L202.70,457.68 L203.54,458.48 L204.39,459.28 L205.24,460.07 L206.10,460.85 L206.96,461.62 L207.83,462.39 L208.71,463.15 L209.59,463.91 L210.51,464.68 L211.45,465.47 L212.40,466.24 L213.35,467.01 L214.31,467.77 L215.28,468.52 L216.25,469.27 L217.23,470.01 L218.21,470.74 L219.20,471.47 L220.78,472.60 L222.76,473.99 L224.76,475.35 L226.78,476.68 L228.82,477.99 L230.88,479.26 L232.95,480.51 L235.04,481.73 L237.15,482.92 L239.26,484.09 L241.47,485.26 L243.72,486.43 L245.99,487.56 L248.28,488.66 L250.57,489.74 L252.88,490.78 L255.20,491.80 L257.53,492.80 L259.87,493.76 L262.22,494.71 L265.51,495.98 L269.22,497.35 L272.95,498.67 L276.70,499.93 L280.47,501.15 L284.26,502.32 L288.06,503.45 L291.87,504.54 L295.69,505.59 L299.52,506.60 L301.94,507.23 L303.90,507.72 L305.85,508.21 L307.81,508.69 L309.77,509.16 L311.74,509.62 L313.70,510.08 L315.67,510.53 L317.63,510.97 L319.60,511.40 L322.39,512.00 L325.39,512.63 L328.39,513.25 L331.39,513.85 L334.39,514.43 L337.40,515.00 L340.42,515.55 L343.43,516.09 L346.45,516.62 L349.47,517.13 L352.93,517.70 L356.48,518.26 L360.02,518.81 L363.57,519.34 L367.13,519.85 L370.68,520.35 L374.24,520.84 L377.80,521.30 L381.36,521.76 L384.93,522.20 L389.33,522.73 L393.82,523.24 L398.32,523.74 L402.82,524.22 L407.32,524.69 L411.83,525.14 L416.33,525.57 L420.83,526.00 L425.34,526.41 L429.85,526.80 L433.62,527.13 L437.35,527.44 L441.09,527.75 L444.82,528.06 L448.55,528.36 L452.29,528.65 L456.02,528.95 L459.74,529.24 L463.47,529.52 L467.20,529.81" fill="none" stroke="#000" stroke-width="2.6"/>
<path d="M143.70,333.80 Q140.08,345.87 137.00,357.60 Q142.45,354.20 147.90,350.80 Q154.15,351.20 160.40,351.60 Q152.36,342.72 143.70,333.80 Z" fill="#000"/>
<path d="M387.1,540 L387.1,349" stroke="#000" stroke-width="2.6"/>
<path d="M387.10,331.20 Q380.75,342.00 375.00,352.60 Q381.05,350.70 387.10,348.80 Q393.15,350.70 399.20,352.60 Q393.45,342.00 387.10,331.20 Z" fill="#000"/>
<circle cx="262.80" cy="495.30" r="4.2" fill="#e0509a" stroke="#000" stroke-width="1.1"/>
<circle cx="387.10" cy="472.70" r="4.2" fill="#e0509a" stroke="#000" stroke-width="1.1"/>
<rect x="91.30" y="320.25" width="2.6" height="241.35" fill="#000"/>
<rect x="84.50" y="559.00" width="387.00" height="2.6" fill="#000"/>
<rect x="92.60" y="499.45" width="3.9" height="1.7" fill="#000"/>
<rect x="92.60" y="439.75" width="3.9" height="1.7" fill="#000"/>
<rect x="92.60" y="380.05" width="3.9" height="1.7" fill="#000"/>
<rect x="92.60" y="320.35" width="3.9" height="1.7" fill="#000"/>
<rect x="92.60" y="547.31" width="2.5" height="1.5" fill="#000"/>
<rect x="92.60" y="535.37" width="2.5" height="1.5" fill="#000"/>
<rect x="92.60" y="523.43" width="2.5" height="1.5" fill="#000"/>
<rect x="92.60" y="511.49" width="2.5" height="1.5" fill="#000"/>
<rect x="92.60" y="487.61" width="2.5" height="1.5" fill="#000"/>
<rect x="92.60" y="475.67" width="2.5" height="1.5" fill="#000"/>
<rect x="92.60" y="463.73" width="2.5" height="1.5" fill="#000"/>
<rect x="92.60" y="451.79" width="2.5" height="1.5" fill="#000"/>
<rect x="92.60" y="427.91" width="2.5" height="1.5" fill="#000"/>
<rect x="92.60" y="415.97" width="2.5" height="1.5" fill="#000"/>
<rect x="92.60" y="404.03" width="2.5" height="1.5" fill="#000"/>
<rect x="92.60" y="392.09" width="2.5" height="1.5" fill="#000"/>
<rect x="92.60" y="368.21" width="2.5" height="1.5" fill="#000"/>
<rect x="92.60" y="356.27" width="2.5" height="1.5" fill="#000"/>
<rect x="92.60" y="344.33" width="2.5" height="1.5" fill="#000"/>
<rect x="92.60" y="332.39" width="2.5" height="1.5" fill="#000"/>
<rect x="165.07" y="556.10" width="1.7" height="4.2" fill="#000"/>
<rect x="239.59" y="556.10" width="1.7" height="4.2" fill="#000"/>
<rect x="314.11" y="556.10" width="1.7" height="4.2" fill="#000"/>
<rect x="388.63" y="556.10" width="1.7" height="4.2" fill="#000"/>
<rect x="463.15" y="556.10" width="1.7" height="4.2" fill="#000"/>
<rect x="109.28" y="557.70" width="1.5" height="2.6" fill="#000"/>
<rect x="127.91" y="557.70" width="1.5" height="2.6" fill="#000"/>
<rect x="146.54" y="557.70" width="1.5" height="2.6" fill="#000"/>
<rect x="183.80" y="557.70" width="1.5" height="2.6" fill="#000"/>
<rect x="202.43" y="557.70" width="1.5" height="2.6" fill="#000"/>
<rect x="221.06" y="557.70" width="1.5" height="2.6" fill="#000"/>
<rect x="258.32" y="557.70" width="1.5" height="2.6" fill="#000"/>
<rect x="276.95" y="557.70" width="1.5" height="2.6" fill="#000"/>
<rect x="295.58" y="557.70" width="1.5" height="2.6" fill="#000"/>
<rect x="332.84" y="557.70" width="1.5" height="2.6" fill="#000"/>
<rect x="351.47" y="557.70" width="1.5" height="2.6" fill="#000"/>
<rect x="370.10" y="557.70" width="1.5" height="2.6" fill="#000"/>
<rect x="407.36" y="557.70" width="1.5" height="2.6" fill="#000"/>
<rect x="425.99" y="557.70" width="1.5" height="2.6" fill="#000"/>
<rect x="444.62" y="557.70" width="1.5" height="2.6" fill="#000"/>
<text x="83.60" y="506.40" font-size="16.00" text-anchor="end">1</text>
<text x="83.60" y="446.70" font-size="16.00" text-anchor="end">2</text>
<text x="83.60" y="387.00" font-size="16.00" text-anchor="end">3</text>
<text x="83.60" y="327.30" font-size="16.00" text-anchor="end">4</text>
<text x="93.00" y="580.80" font-size="16.00" text-anchor="middle">0.0</text>
<text x="239.64" y="580.80" font-size="16.00" text-anchor="middle">0.4</text>
<text x="315.16" y="580.80" font-size="16.00" text-anchor="middle">0.6</text>
<text x="390.68" y="580.80" font-size="16.00" text-anchor="middle">0.8</text>
<text x="464.70" y="580.80" font-size="16.00" text-anchor="middle">1.0</text>
<text x="1.00" y="332.60" font-size="22.30" text-anchor="start">b</text>
<text x="1.00" y="445.40" font-size="20.20" text-anchor="start" textLength="52.3" lengthAdjust="spacing">L[µm]</text>
<text x="246.60" y="607.90" font-size="20.20" text-anchor="start" textLength="57.0" lengthAdjust="spacing">R[µm]</text>
<text x="163.40" y="581.00" font-size="16.00" text-anchor="start">R</text>
<text x="176.00" y="586.40" font-size="12.50" text-anchor="start">c</text>
<text x="176.20" y="574.20" font-size="12.50" text-anchor="start">a</text>
<clipPath id="cc"><rect x="93.90" y="649.00" width="370.00" height="230.20"/></clipPath>
<clipPath id="cc2"><rect x="93.90" y="648.70" width="371.20" height="230.20"/></clipPath>
<path d="M408.7,870.6 L408.7,762" stroke="#000" stroke-width="2.6"/>
<path d="M408.70,744.00 Q402.35,754.80 396.60,765.40 Q402.65,763.50 408.70,761.60 Q414.75,763.50 420.80,765.40 Q415.05,754.80 408.70,744.00 Z" fill="#000"/>
<g clip-path="url(#cc)">
<path d="M231.89,646.99 L231.14,650.42 L230.35,653.84 L229.53,657.24 L228.68,660.63 L227.80,664.00 L226.89,667.36 L225.95,670.70 L224.97,674.03 L223.97,677.35 L222.95,680.64 L222.00,683.60 L221.03,686.54 L220.04,689.48 L219.03,692.41 L217.99,695.34 L216.94,698.25 L215.87,701.16 L214.78,704.05 L213.67,706.94 L212.55,709.82 L211.44,712.62 L210.31,715.41 L209.17,718.20 L208.01,720.98 L206.84,723.75 L205.65,726.52 L204.45,729.29 L203.24,732.05 L202.01,734.80 L200.79,737.52 L199.66,740.00 L198.52,742.48 L197.37,744.96 L196.21,747.44 L195.04,749.91 L193.87,752.39 L192.69,754.86 L191.50,757.32 L190.30,759.79 L189.17,762.12 L188.29,763.90 L187.42,765.68 L186.54,767.46 L185.66,769.24 L184.77,771.02 L183.88,772.80 L182.99,774.58 L182.10,776.36 L181.20,778.14 L180.31,779.90 L179.46,781.60 L178.59,783.29 L177.73,784.99 L176.87,786.69 L176.00,788.38 L175.13,790.08 L174.25,791.77 L173.38,793.46 L172.49,795.14 L171.58,796.89 L170.57,798.80 L169.56,800.70 L168.54,802.60 L167.52,804.49 L166.49,806.37 L165.46,808.25 L164.42,810.12 L163.37,811.99 L162.32,813.85 L161.27,815.67 L160.26,817.42 L159.23,819.17 L158.20,820.91 L157.17,822.64 L156.12,824.36 L155.07,826.08 L154.01,827.78 L152.94,829.47 L151.86,831.15 L150.92,832.60 L150.19,833.72 L149.46,834.83 L148.72,835.95 L147.97,837.07 L147.22,838.21 L146.46,839.35 L145.69,840.52 L144.92,841.71 L144.13,842.92 L143.55,843.83 L143.24,844.33 L142.93,844.83 L142.64,845.34 L142.38,845.85 L142.16,846.36 L141.98,846.87 L141.85,847.37 L141.78,847.88 L141.77,848.38 L141.84,848.83 L141.95,849.23 L142.11,849.63 L142.31,850.01 L142.55,850.38 L142.82,850.74 L143.12,851.08 L143.45,851.39 L143.80,851.69 L144.16,851.96 L144.84,852.37 L145.81,852.78 L146.83,853.05 L147.88,853.19 L148.97,853.23 L150.09,853.18 L151.23,853.06 L152.37,852.90 L153.53,852.71 L154.67,852.51 L156.25,852.24 L158.09,851.97 L159.90,851.74 L161.69,851.55 L163.45,851.39 L165.20,851.25 L166.93,851.13 L168.66,851.03 L170.38,850.94 L172.11,850.85 L173.82,850.77 L175.52,850.68 L177.23,850.60 L178.95,850.51 L180.67,850.42 L182.40,850.33 L184.13,850.25 L185.86,850.16 L187.60,850.07 L189.34,849.98 L190.57,849.92 L191.58,849.87 L192.59,849.82 L193.60,849.77 L194.61,849.71 L195.61,849.66 L196.62,849.61 L197.63,849.57 L198.64,849.52 L199.66,849.47 L203.69,849.28 L208.74,849.05 L213.78,848.83 L218.82,848.62 L223.86,848.43 L228.90,848.24 L233.94,848.06 L238.98,847.89 L244.01,847.73 L249.04,847.58 L255.68,847.39 L262.72,847.21 L269.76,847.04 L276.80,846.89 L283.83,846.76 L290.87,846.63 L297.90,846.52 L304.93,846.43 L311.96,846.34 L318.99,846.27 L325.17,846.21 L331.19,846.16 L337.21,846.12 L343.24,846.09 L349.26,846.06 L355.28,846.04 L361.30,846.02 L367.33,846.01 L373.35,846.00 L379.38,846.00 L384.50,846.00 L389.52,846.00 L394.54,846.01 L399.56,846.02 L404.58,846.03 L409.61,846.04 L414.63,846.05 L419.66,846.06 L424.68,846.08 L429.71,846.09 L433.30,846.10 L436.82,846.11 L440.34,846.12 L443.86,846.13 L447.39,846.14 L450.91,846.16 L454.43,846.17 L457.95,846.18 L461.48,846.18 L465.00,846.19 L465,647 Z" fill="rgb(63,61,153)" fill-opacity="0.2"/>
<path d="M188.40,647.00 L187.61,650.14 L186.82,653.29 L186.04,656.44 L185.25,659.60 L184.47,662.76 L183.69,665.92 L182.91,669.08 L182.14,672.25 L181.36,675.42 L180.58,678.60 L179.72,682.13 L178.77,685.98 L177.82,689.83 L176.87,693.69 L175.91,697.55 L174.96,701.40 L173.99,705.26 L173.02,709.12 L172.04,712.97 L171.06,716.82 L170.07,720.65 L169.17,724.12 L168.25,727.58 L167.34,731.04 L166.41,734.50 L165.47,737.95 L164.52,741.40 L163.56,744.84 L162.60,748.28 L161.62,751.71 L160.62,755.14 L160.11,756.88 L159.96,757.40 L159.81,757.92 L159.65,758.44 L159.50,758.96 L159.35,759.48 L159.19,760.00 L159.04,760.51 L158.88,761.03 L158.73,761.55 L158.53,762.20 L157.98,764.01 L157.43,765.82 L156.88,767.62 L156.32,769.42 L155.76,771.22 L155.19,773.01 L154.62,774.81 L154.04,776.60 L153.46,778.39 L152.88,780.18 L152.29,781.96 L151.69,783.75 L151.09,785.54 L150.49,787.33 L149.89,789.12 L149.29,790.91 L148.70,792.70 L148.11,794.50 L147.52,796.30 L146.94,798.11 L146.39,799.84 L145.98,801.14 L145.58,802.45 L145.19,803.76 L144.80,805.07 L144.41,806.39 L144.04,807.72 L143.67,809.05 L143.31,810.38 L142.95,811.73 L142.61,813.08 L142.40,813.91 L142.26,814.50 L142.13,815.09 L142.01,815.69 L141.91,816.28 L141.84,816.88 L141.79,817.48 L141.77,818.07 L141.79,818.67 L141.84,819.26 L141.94,819.83 L142.06,820.31 L142.21,820.79 L142.38,821.25 L142.59,821.71 L142.82,822.15 L143.08,822.57 L143.36,822.96 L143.67,823.33 L143.99,823.67 L144.34,823.98 L144.89,824.36 L145.54,824.70 L146.23,824.95 L146.96,825.12 L147.72,825.23 L148.50,825.28 L149.31,825.29 L150.14,825.26 L150.97,825.20 L151.81,825.13 L152.84,825.03 L154.37,824.88 L155.90,824.72 L157.41,824.57 L158.92,824.41 L160.41,824.25 L161.90,824.09 L163.37,823.93 L164.84,823.77 L166.30,823.61 L167.75,823.44 L169.74,823.22 L171.86,822.98 L173.97,822.74 L176.07,822.50 L178.16,822.26 L180.25,822.03 L182.32,821.79 L184.40,821.56 L186.47,821.34 L188.53,821.11 L190.24,820.93 L191.17,820.83 L192.10,820.74 L193.03,820.64 L193.95,820.55 L194.88,820.46 L195.82,820.36 L196.75,820.27 L197.68,820.19 L198.62,820.10 L199.55,820.01 L201.67,819.82 L204.02,819.62 L206.38,819.43 L208.75,819.24 L211.12,819.06 L213.50,818.89 L215.89,818.73 L218.29,818.57 L220.69,818.42 L223.10,818.28 L225.51,818.14 L227.93,818.00 L230.34,817.88 L232.76,817.76 L235.18,817.64 L237.61,817.52 L240.03,817.42 L242.45,817.31 L244.88,817.21 L247.30,817.11 L249.72,817.01 L256.04,816.78 L262.79,816.55 L269.53,816.33 L276.26,816.14 L282.98,815.96 L289.68,815.80 L296.38,815.65 L303.06,815.52 L309.74,815.40 L316.41,815.29 L322.68,815.20 L328.38,815.13 L334.09,815.06 L339.79,815.00 L345.49,814.95 L351.18,814.90 L356.88,814.86 L362.57,814.82 L368.27,814.78 L373.97,814.75 L379.66,814.71 L384.46,814.69 L389.21,814.66 L393.96,814.64 L398.72,814.62 L403.47,814.59 L408.23,814.57 L413.00,814.54 L417.76,814.52 L422.53,814.49 L427.31,814.46 L431.41,814.43 L434.75,814.40 L438.10,814.38 L441.46,814.35 L444.81,814.32 L448.17,814.29 L451.53,814.25 L454.89,814.22 L458.26,814.18 L461.63,814.14 L465.01,814.10 L465,647 Z" fill="rgb(153,61,113)" fill-opacity="0.2"/>
<path d="M169.40,647.00 L168.32,652.48 L167.23,657.98 L166.13,663.49 L165.03,669.02 L163.93,674.55 L162.82,680.10 L161.71,685.65 L160.59,691.21 L159.48,696.77 L158.36,702.33 L157.42,706.99 L156.64,710.83 L155.86,714.67 L155.09,718.50 L154.31,722.34 L153.53,726.17 L152.75,730.00 L151.98,733.83 L151.20,737.65 L150.42,741.47 L149.66,745.17 L149.33,746.79 L149.00,748.41 L148.67,750.03 L148.34,751.65 L148.01,753.27 L147.67,754.89 L147.34,756.51 L147.01,758.12 L146.68,759.73 L146.35,761.35 L146.03,762.92 L145.71,764.46 L145.40,766.00 L145.08,767.54 L144.77,769.08 L144.45,770.63 L144.14,772.17 L143.83,773.72 L143.52,775.28 L143.21,776.84 L142.91,778.33 L142.72,779.29 L142.54,780.25 L142.37,781.21 L142.21,782.18 L142.08,783.15 L141.96,784.13 L141.88,785.11 L141.82,786.10 L141.80,787.10 L141.83,788.10 L141.88,788.97 L141.97,789.75 L142.08,790.53 L142.24,791.31 L142.43,792.06 L142.67,792.79 L142.94,793.49 L143.27,794.16 L143.65,794.79 L144.08,795.37 L144.57,795.89 L145.07,796.33 L145.62,796.72 L146.21,797.07 L146.83,797.37 L147.49,797.63 L148.16,797.86 L148.86,798.04 L149.57,798.20 L150.29,798.32 L151.01,798.41 L152.17,798.51 L153.53,798.53 L154.87,798.48 L156.21,798.36 L157.53,798.19 L158.85,797.96 L160.17,797.70 L161.48,797.41 L162.79,797.10 L164.09,796.79 L165.38,796.48 L166.58,796.20 L167.78,795.93 L168.98,795.67 L170.18,795.41 L171.39,795.17 L172.59,794.93 L173.79,794.70 L175.00,794.47 L176.20,794.25 L177.41,794.04 L178.59,793.84 L179.76,793.64 L180.94,793.45 L182.12,793.26 L183.29,793.08 L184.47,792.90 L185.64,792.72 L186.82,792.55 L188.00,792.38 L189.17,792.21 L190.29,792.05 L191.25,791.92 L192.20,791.79 L193.16,791.66 L194.11,791.53 L195.06,791.40 L196.02,791.27 L196.98,791.15 L197.93,791.02 L198.89,790.90 L199.84,790.78 L201.17,790.61 L202.60,790.43 L204.03,790.25 L205.46,790.08 L206.89,789.91 L208.32,789.74 L209.75,789.58 L211.18,789.41 L212.61,789.25 L214.05,789.09 L215.54,788.93 L217.16,788.76 L218.77,788.59 L220.39,788.42 L222.01,788.26 L223.63,788.10 L225.25,787.94 L226.88,787.78 L228.50,787.63 L230.12,787.48 L231.74,787.34 L233.44,787.19 L235.15,787.04 L236.87,786.89 L238.58,786.75 L240.30,786.61 L242.01,786.47 L243.73,786.34 L245.44,786.21 L247.16,786.08 L248.87,785.96 L251.01,785.80 L253.87,785.61 L256.73,785.42 L259.59,785.24 L262.45,785.06 L265.31,784.89 L268.17,784.73 L271.03,784.58 L273.90,784.43 L276.76,784.29 L279.62,784.15 L282.49,784.03 L285.35,783.90 L288.21,783.79 L291.08,783.67 L293.94,783.57 L296.81,783.47 L299.68,783.37 L302.54,783.28 L305.41,783.19 L308.28,783.11 L312.35,783.00 L318.09,782.87 L323.83,782.74 L329.56,782.64 L335.30,782.54 L341.04,782.46 L346.78,782.39 L352.52,782.33 L358.26,782.28 L364.00,782.23 L369.74,782.19 L375.48,782.16 L381.22,782.12 L386.95,782.10 L392.69,782.07 L398.43,782.04 L404.16,782.01 L409.89,781.98 L415.62,781.94 L421.35,781.90 L427.07,781.85 L431.67,781.81 L435.00,781.78 L438.34,781.74 L441.68,781.70 L445.01,781.65 L448.34,781.60 L451.68,781.55 L455.01,781.49 L458.34,781.43 L461.67,781.36 L465.00,781.29 L465,647 Z" fill="rgb(153,139,61)" fill-opacity="0.2"/>
</g>
<path d="M139.8,653.2 L139.8,878" stroke="#7f7f7f" stroke-width="2.4" stroke-dasharray="6.7 9.0" fill="none"/>
<g clip-path="url(#cc2)" fill="none" stroke-width="2.5">
<path d="M231.89,646.99 L231.14,650.42 L230.35,653.84 L229.53,657.24 L228.68,660.63 L227.80,664.00 L226.89,667.36 L225.95,670.70 L224.97,674.03 L223.97,677.35 L222.95,680.64 L222.00,683.60 L221.03,686.54 L220.04,689.48 L219.03,692.41 L217.99,695.34 L216.94,698.25 L215.87,701.16 L214.78,704.05 L213.67,706.94 L212.55,709.82 L211.44,712.62 L210.31,715.41 L209.17,718.20 L208.01,720.98 L206.84,723.75 L205.65,726.52 L204.45,729.29 L203.24,732.05 L202.01,734.80 L200.79,737.52 L199.66,740.00 L198.52,742.48 L197.37,744.96 L196.21,747.44 L195.04,749.91 L193.87,752.39 L192.69,754.86 L191.50,757.32 L190.30,759.79 L189.17,762.12 L188.29,763.90 L187.42,765.68 L186.54,767.46 L185.66,769.24 L184.77,771.02 L183.88,772.80 L182.99,774.58 L182.10,776.36 L181.20,778.14 L180.31,779.90 L179.46,781.60 L178.59,783.29 L177.73,784.99 L176.87,786.69 L176.00,788.38 L175.13,790.08 L174.25,791.77 L173.38,793.46 L172.49,795.14 L171.58,796.89 L170.57,798.80 L169.56,800.70 L168.54,802.60 L167.52,804.49 L166.49,806.37 L165.46,808.25 L164.42,810.12 L163.37,811.99 L162.32,813.85 L161.27,815.67 L160.26,817.42 L159.23,819.17 L158.20,820.91 L157.17,822.64 L156.12,824.36 L155.07,826.08 L154.01,827.78 L152.94,829.47 L151.86,831.15 L150.92,832.60 L150.19,833.72 L149.46,834.83 L148.72,835.95 L147.97,837.07 L147.22,838.21 L146.46,839.35 L145.69,840.52 L144.92,841.71 L144.13,842.92 L143.55,843.83 L143.24,844.33 L142.93,844.83 L142.64,845.34 L142.38,845.85 L142.16,846.36 L141.98,846.87 L141.85,847.37 L141.78,847.88 L141.77,848.38 L141.84,848.83 L141.95,849.23 L142.11,849.63 L142.31,850.01 L142.55,850.38 L142.82,850.74 L143.12,851.08 L143.45,851.39 L143.80,851.69 L144.16,851.96 L144.84,852.37 L145.81,852.78 L146.83,853.05 L147.88,853.19 L148.97,853.23 L150.09,853.18 L151.23,853.06 L152.37,852.90 L153.53,852.71 L154.67,852.51 L156.25,852.24 L158.09,851.97 L159.90,851.74 L161.69,851.55 L163.45,851.39 L165.20,851.25 L166.93,851.13 L168.66,851.03 L170.38,850.94 L172.11,850.85 L173.82,850.77 L175.52,850.68 L177.23,850.60 L178.95,850.51 L180.67,850.42 L182.40,850.33 L184.13,850.25 L185.86,850.16 L187.60,850.07 L189.34,849.98 L190.57,849.92 L191.58,849.87 L192.59,849.82 L193.60,849.77 L194.61,849.71 L195.61,849.66 L196.62,849.61 L197.63,849.57 L198.64,849.52 L199.66,849.47 L203.69,849.28 L208.74,849.05 L213.78,848.83 L218.82,848.62 L223.86,848.43 L228.90,848.24 L233.94,848.06 L238.98,847.89 L244.01,847.73 L249.04,847.58 L255.68,847.39 L262.72,847.21 L269.76,847.04 L276.80,846.89 L283.83,846.76 L290.87,846.63 L297.90,846.52 L304.93,846.43 L311.96,846.34 L318.99,846.27 L325.17,846.21 L331.19,846.16 L337.21,846.12 L343.24,846.09 L349.26,846.06 L355.28,846.04 L361.30,846.02 L367.33,846.01 L373.35,846.00 L379.38,846.00 L384.50,846.00 L389.52,846.00 L394.54,846.01 L399.56,846.02 L404.58,846.03 L409.61,846.04 L414.63,846.05 L419.66,846.06 L424.68,846.08 L429.71,846.09 L433.30,846.10 L436.82,846.11 L440.34,846.12 L443.86,846.13 L447.39,846.14 L450.91,846.16 L454.43,846.17 L457.95,846.18 L461.48,846.18 L465.00,846.19" stroke="#f00"/>
<path d="M188.40,647.00 L187.61,650.14 L186.82,653.29 L186.04,656.44 L185.25,659.60 L184.47,662.76 L183.69,665.92 L182.91,669.08 L182.14,672.25 L181.36,675.42 L180.58,678.60 L179.72,682.13 L178.77,685.98 L177.82,689.83 L176.87,693.69 L175.91,697.55 L174.96,701.40 L173.99,705.26 L173.02,709.12 L172.04,712.97 L171.06,716.82 L170.07,720.65 L169.17,724.12 L168.25,727.58 L167.34,731.04 L166.41,734.50 L165.47,737.95 L164.52,741.40 L163.56,744.84 L162.60,748.28 L161.62,751.71 L160.62,755.14 L160.11,756.88 L159.96,757.40 L159.81,757.92 L159.65,758.44 L159.50,758.96 L159.35,759.48 L159.19,760.00 L159.04,760.51 L158.88,761.03 L158.73,761.55 L158.53,762.20 L157.98,764.01 L157.43,765.82 L156.88,767.62 L156.32,769.42 L155.76,771.22 L155.19,773.01 L154.62,774.81 L154.04,776.60 L153.46,778.39 L152.88,780.18 L152.29,781.96 L151.69,783.75 L151.09,785.54 L150.49,787.33 L149.89,789.12 L149.29,790.91 L148.70,792.70 L148.11,794.50 L147.52,796.30 L146.94,798.11 L146.39,799.84 L145.98,801.14 L145.58,802.45 L145.19,803.76 L144.80,805.07 L144.41,806.39 L144.04,807.72 L143.67,809.05 L143.31,810.38 L142.95,811.73 L142.61,813.08 L142.40,813.91 L142.26,814.50 L142.13,815.09 L142.01,815.69 L141.91,816.28 L141.84,816.88 L141.79,817.48 L141.77,818.07 L141.79,818.67 L141.84,819.26 L141.94,819.83 L142.06,820.31 L142.21,820.79 L142.38,821.25 L142.59,821.71 L142.82,822.15 L143.08,822.57 L143.36,822.96 L143.67,823.33 L143.99,823.67 L144.34,823.98 L144.89,824.36 L145.54,824.70 L146.23,824.95 L146.96,825.12 L147.72,825.23 L148.50,825.28 L149.31,825.29 L150.14,825.26 L150.97,825.20 L151.81,825.13 L152.84,825.03 L154.37,824.88 L155.90,824.72 L157.41,824.57 L158.92,824.41 L160.41,824.25 L161.90,824.09 L163.37,823.93 L164.84,823.77 L166.30,823.61 L167.75,823.44 L169.74,823.22 L171.86,822.98 L173.97,822.74 L176.07,822.50 L178.16,822.26 L180.25,822.03 L182.32,821.79 L184.40,821.56 L186.47,821.34 L188.53,821.11 L190.24,820.93 L191.17,820.83 L192.10,820.74 L193.03,820.64 L193.95,820.55 L194.88,820.46 L195.82,820.36 L196.75,820.27 L197.68,820.19 L198.62,820.10 L199.55,820.01 L201.67,819.82 L204.02,819.62 L206.38,819.43 L208.75,819.24 L211.12,819.06 L213.50,818.89 L215.89,818.73 L218.29,818.57 L220.69,818.42 L223.10,818.28 L225.51,818.14 L227.93,818.00 L230.34,817.88 L232.76,817.76 L235.18,817.64 L237.61,817.52 L240.03,817.42 L242.45,817.31 L244.88,817.21 L247.30,817.11 L249.72,817.01 L256.04,816.78 L262.79,816.55 L269.53,816.33 L276.26,816.14 L282.98,815.96 L289.68,815.80 L296.38,815.65 L303.06,815.52 L309.74,815.40 L316.41,815.29 L322.68,815.20 L328.38,815.13 L334.09,815.06 L339.79,815.00 L345.49,814.95 L351.18,814.90 L356.88,814.86 L362.57,814.82 L368.27,814.78 L373.97,814.75 L379.66,814.71 L384.46,814.69 L389.21,814.66 L393.96,814.64 L398.72,814.62 L403.47,814.59 L408.23,814.57 L413.00,814.54 L417.76,814.52 L422.53,814.49 L427.31,814.46 L431.41,814.43 L434.75,814.40 L438.10,814.38 L441.46,814.35 L444.81,814.32 L448.17,814.29 L451.53,814.25 L454.89,814.22 L458.26,814.18 L461.63,814.14 L465.01,814.10" stroke="#0f0"/>
<path d="M169.40,647.00 L168.32,652.48 L167.23,657.98 L166.13,663.49 L165.03,669.02 L163.93,674.55 L162.82,680.10 L161.71,685.65 L160.59,691.21 L159.48,696.77 L158.36,702.33 L157.42,706.99 L156.64,710.83 L155.86,714.67 L155.09,718.50 L154.31,722.34 L153.53,726.17 L152.75,730.00 L151.98,733.83 L151.20,737.65 L150.42,741.47 L149.66,745.17 L149.33,746.79 L149.00,748.41 L148.67,750.03 L148.34,751.65 L148.01,753.27 L147.67,754.89 L147.34,756.51 L147.01,758.12 L146.68,759.73 L146.35,761.35 L146.03,762.92 L145.71,764.46 L145.40,766.00 L145.08,767.54 L144.77,769.08 L144.45,770.63 L144.14,772.17 L143.83,773.72 L143.52,775.28 L143.21,776.84 L142.91,778.33 L142.72,779.29 L142.54,780.25 L142.37,781.21 L142.21,782.18 L142.08,783.15 L141.96,784.13 L141.88,785.11 L141.82,786.10 L141.80,787.10 L141.83,788.10 L141.88,788.97 L141.97,789.75 L142.08,790.53 L142.24,791.31 L142.43,792.06 L142.67,792.79 L142.94,793.49 L143.27,794.16 L143.65,794.79 L144.08,795.37 L144.57,795.89 L145.07,796.33 L145.62,796.72 L146.21,797.07 L146.83,797.37 L147.49,797.63 L148.16,797.86 L148.86,798.04 L149.57,798.20 L150.29,798.32 L151.01,798.41 L152.17,798.51 L153.53,798.53 L154.87,798.48 L156.21,798.36 L157.53,798.19 L158.85,797.96 L160.17,797.70 L161.48,797.41 L162.79,797.10 L164.09,796.79 L165.38,796.48 L166.58,796.20 L167.78,795.93 L168.98,795.67 L170.18,795.41 L171.39,795.17 L172.59,794.93 L173.79,794.70 L175.00,794.47 L176.20,794.25 L177.41,794.04 L178.59,793.84 L179.76,793.64 L180.94,793.45 L182.12,793.26 L183.29,793.08 L184.47,792.90 L185.64,792.72 L186.82,792.55 L188.00,792.38 L189.17,792.21 L190.29,792.05 L191.25,791.92 L192.20,791.79 L193.16,791.66 L194.11,791.53 L195.06,791.40 L196.02,791.27 L196.98,791.15 L197.93,791.02 L198.89,790.90 L199.84,790.78 L201.17,790.61 L202.60,790.43 L204.03,790.25 L205.46,790.08 L206.89,789.91 L208.32,789.74 L209.75,789.58 L211.18,789.41 L212.61,789.25 L214.05,789.09 L215.54,788.93 L217.16,788.76 L218.77,788.59 L220.39,788.42 L222.01,788.26 L223.63,788.10 L225.25,787.94 L226.88,787.78 L228.50,787.63 L230.12,787.48 L231.74,787.34 L233.44,787.19 L235.15,787.04 L236.87,786.89 L238.58,786.75 L240.30,786.61 L242.01,786.47 L243.73,786.34 L245.44,786.21 L247.16,786.08 L248.87,785.96 L251.01,785.80 L253.87,785.61 L256.73,785.42 L259.59,785.24 L262.45,785.06 L265.31,784.89 L268.17,784.73 L271.03,784.58 L273.90,784.43 L276.76,784.29 L279.62,784.15 L282.49,784.03 L285.35,783.90 L288.21,783.79 L291.08,783.67 L293.94,783.57 L296.81,783.47 L299.68,783.37 L302.54,783.28 L305.41,783.19 L308.28,783.11 L312.35,783.00 L318.09,782.87 L323.83,782.74 L329.56,782.64 L335.30,782.54 L341.04,782.46 L346.78,782.39 L352.52,782.33 L358.26,782.28 L364.00,782.23 L369.74,782.19 L375.48,782.16 L381.22,782.12 L386.95,782.10 L392.69,782.07 L398.43,782.04 L404.16,782.01 L409.89,781.98 L415.62,781.94 L421.35,781.90 L427.07,781.85 L431.67,781.81 L435.00,781.78 L438.34,781.74 L441.68,781.70 L445.01,781.65 L448.34,781.60 L451.68,781.55 L455.01,781.49 L458.34,781.43 L461.67,781.36 L465.00,781.29" stroke="#00f"/>
</g>
<path d="M130.99,696.00 L131.41,697.35 L131.83,698.70 L132.24,700.04 L132.66,701.39 L133.07,702.74 L133.48,704.09 L133.89,705.44 L134.30,706.79 L134.71,708.14 L135.12,709.50 L135.47,710.64 L135.75,711.60 L136.04,712.57 L136.33,713.53 L136.62,714.49 L136.91,715.45 L137.19,716.42 L137.48,717.38 L137.77,718.35 L138.05,719.31 L138.33,720.26 L138.55,721.00 L138.77,721.74 L138.99,722.47 L139.21,723.21 L139.42,723.95 L139.64,724.68 L139.86,725.42 L140.08,726.16 L140.29,726.90 L140.51,727.64 L140.77,728.51 L141.05,729.47 L141.34,730.44 L141.63,731.41 L141.91,732.38 L142.20,733.35 L142.49,734.32 L142.79,735.28 L143.08,736.25 L143.38,737.21 L143.68,738.18 L143.98,739.15 L144.29,740.12 L144.61,741.09 L144.93,742.06 L145.25,743.02 L145.58,743.99 L145.91,744.95 L146.25,745.91 L146.59,746.87 L146.94,747.82 L147.27,748.71 L147.59,749.56 L147.92,750.41 L148.25,751.25 L148.59,752.09 L148.93,752.93 L149.28,753.77 L149.64,754.60 L149.99,755.43 L150.36,756.26 L150.70,757.04 L150.92,757.52 L151.14,758.00 L151.36,758.48 L151.59,758.96 L151.81,759.44 L152.04,759.92 L152.27,760.39 L152.50,760.87 L152.73,761.34 L152.96,761.82 L153.55,762.98 L154.31,764.45 L155.08,765.91 L155.88,767.36 L156.69,768.80 L157.52,770.23 L158.36,771.64 L159.23,773.05 L160.11,774.44 L161.01,775.82 L161.93,777.20 L162.90,778.59 L163.88,779.97 L164.88,781.33 L165.89,782.68 L166.93,784.01 L167.99,785.33 L169.06,786.63 L170.16,787.92 L171.27,789.19 L172.40,790.45 L173.36,791.48 L174.26,792.42 L175.16,793.36 L176.08,794.28 L177.01,795.19 L177.96,796.09 L178.91,796.99 L179.88,797.87 L180.86,798.74 L181.84,799.60 L182.76,800.37 L183.43,800.93 L184.12,801.49 L184.80,802.04 L185.49,802.59 L186.19,803.13 L186.89,803.67 L187.59,804.21 L188.30,804.74 L189.01,805.27 L189.73,805.79 L190.61,806.43 L191.54,807.09 L192.48,807.75 L193.42,808.40 L194.37,809.05 L195.32,809.69 L196.28,810.33 L197.24,810.97 L198.20,811.60 L199.16,812.22 L200.57,813.13 L202.94,814.64 L205.32,816.12 L207.71,817.58 L210.12,819.01 L212.54,820.40 L214.98,821.76 L217.43,823.08 L219.90,824.35 L222.39,825.57 L224.89,826.75 L228.20,828.19 L231.67,829.61 L235.18,830.93 L238.72,832.16 L242.29,833.31 L245.88,834.38 L249.50,835.38 L253.13,836.31 L256.79,837.18 L260.46,837.99 L263.74,838.67 L266.32,839.18 L268.90,839.67 L271.50,840.14 L274.09,840.60 L276.69,841.04 L279.29,841.46 L281.90,841.88 L284.51,842.29 L287.12,842.69 L289.73,843.08 L292.52,843.50 L295.33,843.92 L298.14,844.33 L300.95,844.75 L303.77,845.15 L306.58,845.56 L309.39,845.96 L312.20,846.35 L315.02,846.74 L317.83,847.13 L321.10,847.57 L324.99,848.09 L328.88,848.61 L332.77,849.11 L336.66,849.61 L340.55,850.09 L344.44,850.57 L348.34,851.04 L352.23,851.50 L356.13,851.95 L360.02,852.39 L366.53,853.10 L373.18,853.80 L379.83,854.47 L386.49,855.10 L393.14,855.71 L399.80,856.28 L406.47,856.81 L413.14,857.31 L419.81,857.78 L426.48,858.20 L431.57,858.51 L434.90,858.69 L438.23,858.86 L441.56,859.03 L444.89,859.19 L448.22,859.33 L451.56,859.47 L454.89,859.59 L458.23,859.71 L461.56,859.81 L464.90,859.91" fill="none" stroke="#000" stroke-width="2.6"/>
<path d="M128.90,683.00 Q124.22,694.55 120.10,705.80 Q125.80,702.85 131.50,699.90 Q137.75,700.75 144.00,701.60 Q136.76,692.34 128.90,683.00 Z" fill="#000"/>
<circle cx="319.50" cy="846.40" r="4.2" fill="#e0509a" stroke="#000" stroke-width="1.1"/>
<circle cx="407.80" cy="844.70" r="4.2" fill="#e0509a" stroke="#000" stroke-width="1.1"/>
<rect x="91.30" y="648.75" width="2.6" height="231.75" fill="#000"/>
<rect x="91.40" y="877.90" width="374.00" height="2.6" fill="#000"/>
<rect x="92.60" y="840.08" width="3.9" height="1.7" fill="#000"/>
<rect x="92.60" y="801.81" width="3.9" height="1.7" fill="#000"/>
<rect x="92.60" y="763.54" width="3.9" height="1.7" fill="#000"/>
<rect x="92.60" y="725.27" width="3.9" height="1.7" fill="#000"/>
<rect x="92.60" y="687.00" width="3.9" height="1.7" fill="#000"/>
<rect x="92.60" y="648.73" width="3.9" height="1.7" fill="#000"/>
<rect x="92.60" y="870.80" width="2.5" height="1.5" fill="#000"/>
<rect x="92.60" y="863.14" width="2.5" height="1.5" fill="#000"/>
<rect x="92.60" y="855.49" width="2.5" height="1.5" fill="#000"/>
<rect x="92.60" y="847.83" width="2.5" height="1.5" fill="#000"/>
<rect x="92.60" y="832.53" width="2.5" height="1.5" fill="#000"/>
<rect x="92.60" y="824.87" width="2.5" height="1.5" fill="#000"/>
<rect x="92.60" y="817.22" width="2.5" height="1.5" fill="#000"/>
<rect x="92.60" y="809.56" width="2.5" height="1.5" fill="#000"/>
<rect x="92.60" y="794.26" width="2.5" height="1.5" fill="#000"/>
<rect x="92.60" y="786.60" width="2.5" height="1.5" fill="#000"/>
<rect x="92.60" y="778.95" width="2.5" height="1.5" fill="#000"/>
<rect x="92.60" y="771.29" width="2.5" height="1.5" fill="#000"/>
<rect x="92.60" y="755.99" width="2.5" height="1.5" fill="#000"/>
<rect x="92.60" y="748.33" width="2.5" height="1.5" fill="#000"/>
<rect x="92.60" y="740.68" width="2.5" height="1.5" fill="#000"/>
<rect x="92.60" y="733.02" width="2.5" height="1.5" fill="#000"/>
<rect x="92.60" y="717.72" width="2.5" height="1.5" fill="#000"/>
<rect x="92.60" y="710.06" width="2.5" height="1.5" fill="#000"/>
<rect x="92.60" y="702.41" width="2.5" height="1.5" fill="#000"/>
<rect x="92.60" y="694.75" width="2.5" height="1.5" fill="#000"/>
<rect x="92.60" y="679.45" width="2.5" height="1.5" fill="#000"/>
<rect x="92.60" y="671.79" width="2.5" height="1.5" fill="#000"/>
<rect x="92.60" y="664.14" width="2.5" height="1.5" fill="#000"/>
<rect x="92.60" y="656.48" width="2.5" height="1.5" fill="#000"/>
<rect x="184.05" y="875.00" width="1.7" height="4.2" fill="#000"/>
<rect x="277.15" y="875.00" width="1.7" height="4.2" fill="#000"/>
<rect x="370.25" y="875.00" width="1.7" height="4.2" fill="#000"/>
<rect x="463.35" y="875.00" width="1.7" height="4.2" fill="#000"/>
<rect x="109.67" y="876.60" width="1.5" height="2.6" fill="#000"/>
<rect x="128.29" y="876.60" width="1.5" height="2.6" fill="#000"/>
<rect x="146.91" y="876.60" width="1.5" height="2.6" fill="#000"/>
<rect x="165.53" y="876.60" width="1.5" height="2.6" fill="#000"/>
<rect x="202.77" y="876.60" width="1.5" height="2.6" fill="#000"/>
<rect x="221.39" y="876.60" width="1.5" height="2.6" fill="#000"/>
<rect x="240.01" y="876.60" width="1.5" height="2.6" fill="#000"/>
<rect x="258.63" y="876.60" width="1.5" height="2.6" fill="#000"/>
<rect x="295.87" y="876.60" width="1.5" height="2.6" fill="#000"/>
<rect x="314.49" y="876.60" width="1.5" height="2.6" fill="#000"/>
<rect x="333.11" y="876.60" width="1.5" height="2.6" fill="#000"/>
<rect x="351.73" y="876.60" width="1.5" height="2.6" fill="#000"/>
<rect x="388.97" y="876.60" width="1.5" height="2.6" fill="#000"/>
<rect x="407.59" y="876.60" width="1.5" height="2.6" fill="#000"/>
<rect x="426.21" y="876.60" width="1.5" height="2.6" fill="#000"/>
<rect x="444.83" y="876.60" width="1.5" height="2.6" fill="#000"/>
<text x="83.60" y="885.20" font-size="16.00" text-anchor="end">0</text>
<text x="83.60" y="846.93" font-size="16.00" text-anchor="end">1</text>
<text x="83.60" y="808.66" font-size="16.00" text-anchor="end">2</text>
<text x="83.60" y="770.39" font-size="16.00" text-anchor="end">3</text>
<text x="83.60" y="732.12" font-size="16.00" text-anchor="end">4</text>
<text x="83.60" y="693.85" font-size="16.00" text-anchor="end">5</text>
<text x="83.60" y="655.58" font-size="16.00" text-anchor="end">6</text>
<text x="183.90" y="899.80" font-size="16.00" text-anchor="middle">0.5</text>
<text x="279.00" y="899.80" font-size="16.00" text-anchor="middle">1.0</text>
<text x="371.80" y="899.80" font-size="16.00" text-anchor="middle">1.5</text>
<text x="463.20" y="899.80" font-size="16.00" text-anchor="middle">2.0</text>
<text x="1.00" y="660.70" font-size="22.30" text-anchor="start">c</text>
<text x="1.00" y="769.20" font-size="20.20" text-anchor="start" textLength="52.3" lengthAdjust="spacing">L[µm]</text>
<text x="246.20" y="925.40" font-size="20.20" text-anchor="start" textLength="57.0" lengthAdjust="spacing">R[µm]</text>
<text x="131.40" y="899.80" font-size="16.00" text-anchor="start">R</text>
<text x="143.70" y="905.20" font-size="12.50" text-anchor="start">c</text>
</svg>
</body></html>
